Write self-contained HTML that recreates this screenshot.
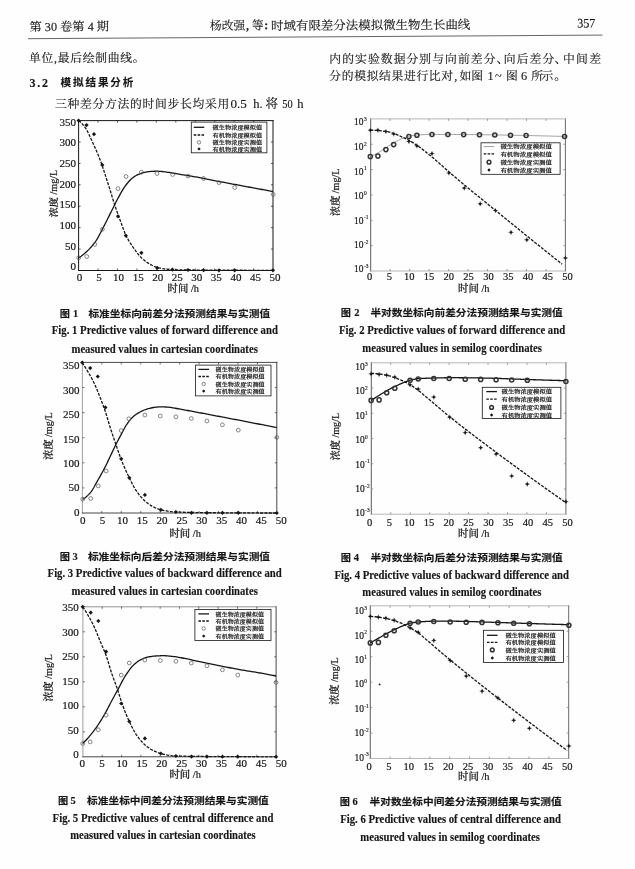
<!DOCTYPE html>
<html lang="zh"><head><meta charset="utf-8"><title>p357</title>
<style>html,body{margin:0;padding:0;background:#fff}svg{display:block}text{white-space:pre}</style></head>
<body><svg width="635" height="869" viewBox="0 0 635 869">
<defs><filter id="bl" x="0" y="0" width="635" height="869" filterUnits="userSpaceOnUse"><feGaussianBlur stdDeviation="0.5"/></filter></defs>
<rect width="635" height="869" fill="#fefefe"/>
<g filter="url(#bl)">
<g transform="rotate(-0.36 28 38.7)">
<text x="29.60" y="31.00" font-size="12" text-anchor="start" font-family="&quot;Liberation Serif&quot;,&quot;Noto Serif CJK SC&quot;,serif" font-weight="400" fill="#161616" stroke="#161616" stroke-width="0.14" textLength="79.5" lengthAdjust="spacingAndGlyphs">第 30 卷第 4 期</text>
<text x="210.00" y="31.00" font-size="12" text-anchor="start" font-family="&quot;Liberation Serif&quot;,&quot;Noto Serif CJK SC&quot;,serif" font-weight="400" fill="#161616" stroke="#161616" stroke-width="0.14" textLength="35.2" lengthAdjust="spacingAndGlyphs">杨改强</text>
<text x="246.00" y="31.00" font-size="12" text-anchor="start" font-family="&quot;Liberation Serif&quot;,&quot;Noto Serif CJK SC&quot;,serif" font-weight="bold" fill="#161616" stroke="#161616" stroke-width="0.14">,</text>
<text x="252.00" y="31.00" font-size="12" text-anchor="start" font-family="&quot;Liberation Serif&quot;,&quot;Noto Serif CJK SC&quot;,serif" font-weight="400" fill="#161616" stroke="#161616" stroke-width="0.14" textLength="11.6" lengthAdjust="spacingAndGlyphs">等</text>
<text x="264.30" y="30.60" font-size="12" text-anchor="start" font-family="&quot;Liberation Serif&quot;,&quot;Noto Serif CJK SC&quot;,serif" font-weight="bold" fill="#161616" stroke="#161616" stroke-width="0.14">:</text>
<text x="271.10" y="31.50" font-size="12" text-anchor="start" font-family="&quot;Liberation Serif&quot;,&quot;Noto Serif CJK SC&quot;,serif" font-weight="400" fill="#161616" stroke="#161616" stroke-width="0.14" textLength="199.3" lengthAdjust="spacingAndGlyphs">时域有限差分法模拟微生物生长曲线</text>
<text x="577.30" y="31.00" font-size="13" text-anchor="start" font-family="&quot;Liberation Serif&quot;,&quot;Noto Serif CJK SC&quot;,serif" font-weight="normal" fill="#161616" stroke="#161616" stroke-width="0.14" textLength="18.2" lengthAdjust="spacingAndGlyphs">357</text>
<line x1="28.00" y1="38.70" x2="602.50" y2="38.70" stroke="#555" stroke-width="0.9"/>
</g>
<text x="29.00" y="62.40" font-size="11.8" text-anchor="start" font-family="&quot;Liberation Serif&quot;,&quot;Noto Serif CJK SC&quot;,serif" font-weight="400" fill="#161616" stroke="#161616" stroke-width="0.14" textLength="115.5" lengthAdjust="spacing">单位,最后绘制曲线。</text>
<text x="29.50" y="86.60" font-size="12" text-anchor="start" font-family="&quot;Liberation Serif&quot;,&quot;Noto Serif CJK SC&quot;,serif" font-weight="bold" fill="#161616" stroke="#161616" stroke-width="0.14" textLength="18.5" lengthAdjust="spacing">3.2</text>
<text x="60.60" y="86.30" font-size="10.6" text-anchor="start" font-family="&quot;Liberation Sans&quot;,&quot;Noto Sans CJK SC&quot;,sans-serif" font-weight="bold" fill="#161616" stroke="#161616" stroke-width="0.14" textLength="72.8" lengthAdjust="spacing">模拟结果分析</text>
<text x="55.00" y="107.90" font-size="11.8" text-anchor="start" font-family="&quot;Liberation Serif&quot;,&quot;Noto Serif CJK SC&quot;,serif" font-weight="400" fill="#161616" stroke="#161616" stroke-width="0.14" textLength="174.3" lengthAdjust="spacing">三种差分方法的时间步长均采用</text>
<text x="230.50" y="107.90" font-size="12.5" text-anchor="start" font-family="&quot;Liberation Serif&quot;,&quot;Noto Serif CJK SC&quot;,serif" font-weight="normal" fill="#161616" stroke="#161616" stroke-width="0.14" textLength="16.4" lengthAdjust="spacingAndGlyphs">0.5</text>
<text x="253.20" y="107.90" font-size="12.5" text-anchor="start" font-family="&quot;Liberation Serif&quot;,&quot;Noto Serif CJK SC&quot;,serif" font-weight="normal" fill="#161616" stroke="#161616" stroke-width="0.14">h.</text>
<text x="265.60" y="107.90" font-size="12.5" text-anchor="start" font-family="&quot;Liberation Serif&quot;,&quot;Noto Serif CJK SC&quot;,serif" font-weight="400" fill="#161616" stroke="#161616" stroke-width="0.14">将</text>
<text x="282.20" y="107.90" font-size="12.5" text-anchor="start" font-family="&quot;Liberation Serif&quot;,&quot;Noto Serif CJK SC&quot;,serif" font-weight="normal" fill="#161616" stroke="#161616" stroke-width="0.14" textLength="10.4" lengthAdjust="spacingAndGlyphs">50</text>
<text x="297.30" y="107.90" font-size="12.5" text-anchor="start" font-family="&quot;Liberation Serif&quot;,&quot;Noto Serif CJK SC&quot;,serif" font-weight="normal" fill="#161616" stroke="#161616" stroke-width="0.14">h</text>
<text x="329.30" y="62.50" font-size="11.8" text-anchor="start" font-family="&quot;Liberation Serif&quot;,&quot;Noto Serif CJK SC&quot;,serif" font-weight="400" fill="#161616" stroke="#161616" stroke-width="0.14" textLength="166.2" lengthAdjust="spacing">内的实验数据分别与向前差分</text>
<text x="496.60" y="62.50" font-size="12.5" text-anchor="start" font-family="&quot;Liberation Serif&quot;,&quot;Noto Serif CJK SC&quot;,serif" font-weight="400" fill="#161616" stroke="#161616" stroke-width="0.14">、</text>
<text x="503.70" y="62.50" font-size="11.8" text-anchor="start" font-family="&quot;Liberation Serif&quot;,&quot;Noto Serif CJK SC&quot;,serif" font-weight="400" fill="#161616" stroke="#161616" stroke-width="0.14" textLength="50.6" lengthAdjust="spacing">向后差分</text>
<text x="554.60" y="62.50" font-size="12.5" text-anchor="start" font-family="&quot;Liberation Serif&quot;,&quot;Noto Serif CJK SC&quot;,serif" font-weight="400" fill="#161616" stroke="#161616" stroke-width="0.14">、</text>
<text x="562.90" y="62.50" font-size="11.8" text-anchor="start" font-family="&quot;Liberation Serif&quot;,&quot;Noto Serif CJK SC&quot;,serif" font-weight="400" fill="#161616" stroke="#161616" stroke-width="0.14" textLength="38.2" lengthAdjust="spacing">中间差</text>
<text x="329.30" y="80.40" font-size="11.8" text-anchor="start" font-family="&quot;Liberation Serif&quot;,&quot;Noto Serif CJK SC&quot;,serif" font-weight="400" fill="#161616" stroke="#161616" stroke-width="0.14" textLength="123.8" lengthAdjust="spacing">分的模拟结果进行比对</text>
<text x="454.20" y="80.40" font-size="12.3" text-anchor="start" font-family="&quot;Liberation Serif&quot;,&quot;Noto Serif CJK SC&quot;,serif" font-weight="normal" fill="#161616" stroke="#161616" stroke-width="0.14">,</text>
<text x="459.50" y="80.40" font-size="11.8" text-anchor="start" font-family="&quot;Liberation Serif&quot;,&quot;Noto Serif CJK SC&quot;,serif" font-weight="400" fill="#161616" stroke="#161616" stroke-width="0.14" textLength="23.6" lengthAdjust="spacing">如图</text>
<text x="487.40" y="80.40" font-size="12.3" text-anchor="start" font-family="&quot;Liberation Serif&quot;,&quot;Noto Serif CJK SC&quot;,serif" font-weight="normal" fill="#161616" stroke="#161616" stroke-width="0.14">1</text>
<text x="495.00" y="80.40" font-size="12.3" text-anchor="start" font-family="&quot;Liberation Serif&quot;,&quot;Noto Serif CJK SC&quot;,serif" font-weight="normal" fill="#161616" stroke="#161616" stroke-width="0.14">~</text>
<text x="505.90" y="80.40" font-size="11.8" text-anchor="start" font-family="&quot;Liberation Serif&quot;,&quot;Noto Serif CJK SC&quot;,serif" font-weight="400" fill="#161616" stroke="#161616" stroke-width="0.14" textLength="11.5" lengthAdjust="spacing">图</text>
<text x="521.00" y="80.40" font-size="12.3" text-anchor="start" font-family="&quot;Liberation Serif&quot;,&quot;Noto Serif CJK SC&quot;,serif" font-weight="normal" fill="#161616" stroke="#161616" stroke-width="0.14">6</text>
<text x="531.20" y="80.40" font-size="11.8" text-anchor="start" font-family="&quot;Liberation Serif&quot;,&quot;Noto Serif CJK SC&quot;,serif" font-weight="400" fill="#161616" stroke="#161616" stroke-width="0.14" textLength="22" lengthAdjust="spacing">所示</text>
<text x="554.30" y="80.40" font-size="12.3" text-anchor="start" font-family="&quot;Liberation Serif&quot;,&quot;Noto Serif CJK SC&quot;,serif" font-weight="400" fill="#161616" stroke="#161616" stroke-width="0.14">。</text>
<text x="59.70" y="316.70" font-size="9.6" text-anchor="start" font-family="&quot;Liberation Sans&quot;,&quot;Noto Sans CJK SC&quot;,sans-serif" font-weight="bold" fill="#161616" stroke="#161616" stroke-width="0.14" textLength="10.2" lengthAdjust="spacingAndGlyphs">图</text>
<text x="73.00" y="316.60" font-size="10.5" text-anchor="start" font-family="&quot;Liberation Serif&quot;,&quot;Noto Serif CJK SC&quot;,serif" font-weight="bold" fill="#161616" stroke="#161616" stroke-width="0.14">1</text>
<text x="88.40" y="316.70" font-size="9.6" text-anchor="start" font-family="&quot;Liberation Sans&quot;,&quot;Noto Sans CJK SC&quot;,sans-serif" font-weight="bold" fill="#161616" stroke="#161616" stroke-width="0.14" textLength="181.7" lengthAdjust="spacingAndGlyphs">标准坐标向前差分法预测结果与实测值</text>
<text x="51.80" y="334.40" font-size="12.2" text-anchor="start" font-family="&quot;Liberation Serif&quot;,&quot;Noto Serif CJK SC&quot;,serif" font-weight="bold" fill="#161616" stroke="#161616" stroke-width="0.14" textLength="226.1" lengthAdjust="spacingAndGlyphs">Fig. 1 Predictive values of forward difference and</text>
<text x="71.50" y="352.70" font-size="12.2" text-anchor="start" font-family="&quot;Liberation Serif&quot;,&quot;Noto Serif CJK SC&quot;,serif" font-weight="bold" fill="#161616" stroke="#161616" stroke-width="0.14" textLength="186.3" lengthAdjust="spacingAndGlyphs">measured values in cartesian coordinates</text>
<text x="340.70" y="315.60" font-size="9.6" text-anchor="start" font-family="&quot;Liberation Sans&quot;,&quot;Noto Sans CJK SC&quot;,sans-serif" font-weight="bold" fill="#161616" stroke="#161616" stroke-width="0.14" textLength="10.2" lengthAdjust="spacingAndGlyphs">图</text>
<text x="354.30" y="315.50" font-size="10.5" text-anchor="start" font-family="&quot;Liberation Serif&quot;,&quot;Noto Serif CJK SC&quot;,serif" font-weight="bold" fill="#161616" stroke="#161616" stroke-width="0.14">2</text>
<text x="370.40" y="315.60" font-size="9.6" text-anchor="start" font-family="&quot;Liberation Sans&quot;,&quot;Noto Sans CJK SC&quot;,sans-serif" font-weight="bold" fill="#161616" stroke="#161616" stroke-width="0.14" textLength="192.3" lengthAdjust="spacingAndGlyphs">半对数坐标向前差分法预测结果与实测值</text>
<text x="338.90" y="334.40" font-size="12.2" text-anchor="start" font-family="&quot;Liberation Serif&quot;,&quot;Noto Serif CJK SC&quot;,serif" font-weight="bold" fill="#161616" stroke="#161616" stroke-width="0.14" textLength="226.3" lengthAdjust="spacingAndGlyphs">Fig. 2 Predictive values of forward difference and</text>
<text x="362.30" y="352.40" font-size="12.2" text-anchor="start" font-family="&quot;Liberation Serif&quot;,&quot;Noto Serif CJK SC&quot;,serif" font-weight="bold" fill="#161616" stroke="#161616" stroke-width="0.14" textLength="179.7" lengthAdjust="spacingAndGlyphs">measured values in semilog coordinates</text>
<text x="59.70" y="559.70" font-size="9.6" text-anchor="start" font-family="&quot;Liberation Sans&quot;,&quot;Noto Sans CJK SC&quot;,sans-serif" font-weight="bold" fill="#161616" stroke="#161616" stroke-width="0.14" textLength="10.2" lengthAdjust="spacingAndGlyphs">图</text>
<text x="72.60" y="559.60" font-size="10.5" text-anchor="start" font-family="&quot;Liberation Serif&quot;,&quot;Noto Serif CJK SC&quot;,serif" font-weight="bold" fill="#161616" stroke="#161616" stroke-width="0.14">3</text>
<text x="87.90" y="559.70" font-size="9.6" text-anchor="start" font-family="&quot;Liberation Sans&quot;,&quot;Noto Sans CJK SC&quot;,sans-serif" font-weight="bold" fill="#161616" stroke="#161616" stroke-width="0.14" textLength="182.2" lengthAdjust="spacingAndGlyphs">标准坐标向后差分法预测结果与实测值</text>
<text x="47.60" y="577.30" font-size="12.2" text-anchor="start" font-family="&quot;Liberation Serif&quot;,&quot;Noto Serif CJK SC&quot;,serif" font-weight="bold" fill="#161616" stroke="#161616" stroke-width="0.14" textLength="234.1" lengthAdjust="spacingAndGlyphs">Fig. 3 Predictive values of backward difference and</text>
<text x="71.50" y="595.20" font-size="12.2" text-anchor="start" font-family="&quot;Liberation Serif&quot;,&quot;Noto Serif CJK SC&quot;,serif" font-weight="bold" fill="#161616" stroke="#161616" stroke-width="0.14" textLength="186.3" lengthAdjust="spacingAndGlyphs">measured values in cartesian coordinates</text>
<text x="340.70" y="560.60" font-size="9.6" text-anchor="start" font-family="&quot;Liberation Sans&quot;,&quot;Noto Sans CJK SC&quot;,sans-serif" font-weight="bold" fill="#161616" stroke="#161616" stroke-width="0.14" textLength="10.2" lengthAdjust="spacingAndGlyphs">图</text>
<text x="353.80" y="560.50" font-size="10.5" text-anchor="start" font-family="&quot;Liberation Serif&quot;,&quot;Noto Serif CJK SC&quot;,serif" font-weight="bold" fill="#161616" stroke="#161616" stroke-width="0.14">4</text>
<text x="370.40" y="560.60" font-size="9.6" text-anchor="start" font-family="&quot;Liberation Sans&quot;,&quot;Noto Sans CJK SC&quot;,sans-serif" font-weight="bold" fill="#161616" stroke="#161616" stroke-width="0.14" textLength="192.3" lengthAdjust="spacingAndGlyphs">半对数坐标向后差分法预测结果与实测值</text>
<text x="334.40" y="578.70" font-size="12.2" text-anchor="start" font-family="&quot;Liberation Serif&quot;,&quot;Noto Serif CJK SC&quot;,serif" font-weight="bold" fill="#161616" stroke="#161616" stroke-width="0.14" textLength="234.6" lengthAdjust="spacingAndGlyphs">Fig. 4 Predictive values of backward difference and</text>
<text x="362.30" y="596.00" font-size="12.2" text-anchor="start" font-family="&quot;Liberation Serif&quot;,&quot;Noto Serif CJK SC&quot;,serif" font-weight="bold" fill="#161616" stroke="#161616" stroke-width="0.14" textLength="179.2" lengthAdjust="spacingAndGlyphs">measured values in semilog coordinates</text>
<text x="58.10" y="803.90" font-size="9.6" text-anchor="start" font-family="&quot;Liberation Sans&quot;,&quot;Noto Sans CJK SC&quot;,sans-serif" font-weight="bold" fill="#161616" stroke="#161616" stroke-width="0.14" textLength="10.2" lengthAdjust="spacingAndGlyphs">图</text>
<text x="70.60" y="803.80" font-size="10.5" text-anchor="start" font-family="&quot;Liberation Serif&quot;,&quot;Noto Serif CJK SC&quot;,serif" font-weight="bold" fill="#161616" stroke="#161616" stroke-width="0.14">5</text>
<text x="87.10" y="803.90" font-size="9.6" text-anchor="start" font-family="&quot;Liberation Sans&quot;,&quot;Noto Sans CJK SC&quot;,sans-serif" font-weight="bold" fill="#161616" stroke="#161616" stroke-width="0.14" textLength="181.7" lengthAdjust="spacingAndGlyphs">标准坐标中间差分法预测结果与实测值</text>
<text x="52.60" y="822.20" font-size="12.2" text-anchor="start" font-family="&quot;Liberation Serif&quot;,&quot;Noto Serif CJK SC&quot;,serif" font-weight="bold" fill="#161616" stroke="#161616" stroke-width="0.14" textLength="220.8" lengthAdjust="spacingAndGlyphs">Fig. 5 Predictive values of central difference and</text>
<text x="70.20" y="839.40" font-size="12.2" text-anchor="start" font-family="&quot;Liberation Serif&quot;,&quot;Noto Serif CJK SC&quot;,serif" font-weight="bold" fill="#161616" stroke="#161616" stroke-width="0.14" textLength="185.5" lengthAdjust="spacingAndGlyphs">measured values in cartesian coordinates</text>
<text x="339.70" y="805.30" font-size="9.6" text-anchor="start" font-family="&quot;Liberation Sans&quot;,&quot;Noto Sans CJK SC&quot;,sans-serif" font-weight="bold" fill="#161616" stroke="#161616" stroke-width="0.14" textLength="10.2" lengthAdjust="spacingAndGlyphs">图</text>
<text x="352.60" y="805.20" font-size="10.5" text-anchor="start" font-family="&quot;Liberation Serif&quot;,&quot;Noto Serif CJK SC&quot;,serif" font-weight="bold" fill="#161616" stroke="#161616" stroke-width="0.14">6</text>
<text x="369.60" y="805.30" font-size="9.6" text-anchor="start" font-family="&quot;Liberation Sans&quot;,&quot;Noto Sans CJK SC&quot;,sans-serif" font-weight="bold" fill="#161616" stroke="#161616" stroke-width="0.14" textLength="192.1" lengthAdjust="spacingAndGlyphs">半对数坐标中间差分法预测结果与实测值</text>
<text x="340.20" y="822.80" font-size="12.2" text-anchor="start" font-family="&quot;Liberation Serif&quot;,&quot;Noto Serif CJK SC&quot;,serif" font-weight="bold" fill="#161616" stroke="#161616" stroke-width="0.14" textLength="220.7" lengthAdjust="spacingAndGlyphs">Fig. 6 Predictive values of central difference and</text>
<text x="360.30" y="841.40" font-size="12.2" text-anchor="start" font-family="&quot;Liberation Serif&quot;,&quot;Noto Serif CJK SC&quot;,serif" font-weight="bold" fill="#161616" stroke="#161616" stroke-width="0.14" textLength="179.7" lengthAdjust="spacingAndGlyphs">measured values in semilog coordinates</text>
<line x1="78.60" y1="120.60" x2="78.60" y2="270.50" stroke="#161616" stroke-width="1.0" stroke-linecap="square"/>
<line x1="273.00" y1="120.60" x2="273.00" y2="270.50" stroke="#161616" stroke-width="1.0" stroke-linecap="square"/>
<line x1="78.60" y1="120.60" x2="273.00" y2="120.60" stroke="#161616" stroke-width="1.0" stroke-linecap="square"/>
<line x1="78.60" y1="270.50" x2="273.00" y2="270.50" stroke="#161616" stroke-width="1.0" stroke-linecap="square"/>
<text x="79.50" y="280.50" font-size="11" text-anchor="middle" font-family="&quot;Liberation Serif&quot;,&quot;Noto Serif CJK SC&quot;,serif" font-weight="normal" fill="#161616" stroke="#161616" stroke-width="0.2">0</text>
<line x1="98.04" y1="270.50" x2="98.04" y2="268.50" stroke="#161616" stroke-width="0.7"/>
<line x1="98.04" y1="120.60" x2="98.04" y2="122.60" stroke="#161616" stroke-width="0.7"/>
<text x="99.05" y="280.50" font-size="11" text-anchor="middle" font-family="&quot;Liberation Serif&quot;,&quot;Noto Serif CJK SC&quot;,serif" font-weight="normal" fill="#161616" stroke="#161616" stroke-width="0.2">5</text>
<line x1="117.48" y1="270.50" x2="117.48" y2="268.50" stroke="#161616" stroke-width="0.7"/>
<line x1="117.48" y1="120.60" x2="117.48" y2="122.60" stroke="#161616" stroke-width="0.7"/>
<text x="118.60" y="280.50" font-size="11" text-anchor="middle" font-family="&quot;Liberation Serif&quot;,&quot;Noto Serif CJK SC&quot;,serif" font-weight="normal" fill="#161616" stroke="#161616" stroke-width="0.2">10</text>
<line x1="136.92" y1="270.50" x2="136.92" y2="268.50" stroke="#161616" stroke-width="0.7"/>
<line x1="136.92" y1="120.60" x2="136.92" y2="122.60" stroke="#161616" stroke-width="0.7"/>
<text x="138.15" y="280.50" font-size="11" text-anchor="middle" font-family="&quot;Liberation Serif&quot;,&quot;Noto Serif CJK SC&quot;,serif" font-weight="normal" fill="#161616" stroke="#161616" stroke-width="0.2">15</text>
<line x1="156.36" y1="270.50" x2="156.36" y2="268.50" stroke="#161616" stroke-width="0.7"/>
<line x1="156.36" y1="120.60" x2="156.36" y2="122.60" stroke="#161616" stroke-width="0.7"/>
<text x="157.70" y="280.50" font-size="11" text-anchor="middle" font-family="&quot;Liberation Serif&quot;,&quot;Noto Serif CJK SC&quot;,serif" font-weight="normal" fill="#161616" stroke="#161616" stroke-width="0.2">20</text>
<line x1="175.80" y1="270.50" x2="175.80" y2="268.50" stroke="#161616" stroke-width="0.7"/>
<line x1="175.80" y1="120.60" x2="175.80" y2="122.60" stroke="#161616" stroke-width="0.7"/>
<text x="177.25" y="280.50" font-size="11" text-anchor="middle" font-family="&quot;Liberation Serif&quot;,&quot;Noto Serif CJK SC&quot;,serif" font-weight="normal" fill="#161616" stroke="#161616" stroke-width="0.2">25</text>
<line x1="195.24" y1="270.50" x2="195.24" y2="268.50" stroke="#161616" stroke-width="0.7"/>
<line x1="195.24" y1="120.60" x2="195.24" y2="122.60" stroke="#161616" stroke-width="0.7"/>
<text x="196.80" y="280.50" font-size="11" text-anchor="middle" font-family="&quot;Liberation Serif&quot;,&quot;Noto Serif CJK SC&quot;,serif" font-weight="normal" fill="#161616" stroke="#161616" stroke-width="0.2">30</text>
<line x1="214.68" y1="270.50" x2="214.68" y2="268.50" stroke="#161616" stroke-width="0.7"/>
<line x1="214.68" y1="120.60" x2="214.68" y2="122.60" stroke="#161616" stroke-width="0.7"/>
<text x="216.35" y="280.50" font-size="11" text-anchor="middle" font-family="&quot;Liberation Serif&quot;,&quot;Noto Serif CJK SC&quot;,serif" font-weight="normal" fill="#161616" stroke="#161616" stroke-width="0.2">35</text>
<line x1="234.12" y1="270.50" x2="234.12" y2="268.50" stroke="#161616" stroke-width="0.7"/>
<line x1="234.12" y1="120.60" x2="234.12" y2="122.60" stroke="#161616" stroke-width="0.7"/>
<text x="235.90" y="280.50" font-size="11" text-anchor="middle" font-family="&quot;Liberation Serif&quot;,&quot;Noto Serif CJK SC&quot;,serif" font-weight="normal" fill="#161616" stroke="#161616" stroke-width="0.2">40</text>
<line x1="253.56" y1="270.50" x2="253.56" y2="268.50" stroke="#161616" stroke-width="0.7"/>
<line x1="253.56" y1="120.60" x2="253.56" y2="122.60" stroke="#161616" stroke-width="0.7"/>
<text x="255.45" y="280.50" font-size="11" text-anchor="middle" font-family="&quot;Liberation Serif&quot;,&quot;Noto Serif CJK SC&quot;,serif" font-weight="normal" fill="#161616" stroke="#161616" stroke-width="0.2">45</text>
<text x="275.00" y="280.50" font-size="11" text-anchor="middle" font-family="&quot;Liberation Serif&quot;,&quot;Noto Serif CJK SC&quot;,serif" font-weight="normal" fill="#161616" stroke="#161616" stroke-width="0.2">50</text>
<text x="76.00" y="125.53" font-size="11" text-anchor="end" font-family="&quot;Liberation Serif&quot;,&quot;Noto Serif CJK SC&quot;,serif" font-weight="normal" fill="#161616" stroke="#161616" stroke-width="0.2">350</text>
<line x1="78.60" y1="142.01" x2="80.60" y2="142.01" stroke="#161616" stroke-width="0.7"/>
<line x1="273.00" y1="142.01" x2="271.00" y2="142.01" stroke="#161616" stroke-width="0.7"/>
<text x="76.00" y="146.23" font-size="11" text-anchor="end" font-family="&quot;Liberation Serif&quot;,&quot;Noto Serif CJK SC&quot;,serif" font-weight="normal" fill="#161616" stroke="#161616" stroke-width="0.2">300</text>
<line x1="78.60" y1="163.43" x2="80.60" y2="163.43" stroke="#161616" stroke-width="0.7"/>
<line x1="273.00" y1="163.43" x2="271.00" y2="163.43" stroke="#161616" stroke-width="0.7"/>
<text x="76.00" y="166.93" font-size="11" text-anchor="end" font-family="&quot;Liberation Serif&quot;,&quot;Noto Serif CJK SC&quot;,serif" font-weight="normal" fill="#161616" stroke="#161616" stroke-width="0.2">250</text>
<line x1="78.60" y1="184.84" x2="80.60" y2="184.84" stroke="#161616" stroke-width="0.7"/>
<line x1="273.00" y1="184.84" x2="271.00" y2="184.84" stroke="#161616" stroke-width="0.7"/>
<text x="76.00" y="187.63" font-size="11" text-anchor="end" font-family="&quot;Liberation Serif&quot;,&quot;Noto Serif CJK SC&quot;,serif" font-weight="normal" fill="#161616" stroke="#161616" stroke-width="0.2">200</text>
<line x1="78.60" y1="206.26" x2="80.60" y2="206.26" stroke="#161616" stroke-width="0.7"/>
<line x1="273.00" y1="206.26" x2="271.00" y2="206.26" stroke="#161616" stroke-width="0.7"/>
<text x="76.00" y="208.33" font-size="11" text-anchor="end" font-family="&quot;Liberation Serif&quot;,&quot;Noto Serif CJK SC&quot;,serif" font-weight="normal" fill="#161616" stroke="#161616" stroke-width="0.2">150</text>
<line x1="78.60" y1="227.67" x2="80.60" y2="227.67" stroke="#161616" stroke-width="0.7"/>
<line x1="273.00" y1="227.67" x2="271.00" y2="227.67" stroke="#161616" stroke-width="0.7"/>
<text x="76.00" y="229.03" font-size="11" text-anchor="end" font-family="&quot;Liberation Serif&quot;,&quot;Noto Serif CJK SC&quot;,serif" font-weight="normal" fill="#161616" stroke="#161616" stroke-width="0.2">100</text>
<line x1="78.60" y1="249.09" x2="80.60" y2="249.09" stroke="#161616" stroke-width="0.7"/>
<line x1="273.00" y1="249.09" x2="271.00" y2="249.09" stroke="#161616" stroke-width="0.7"/>
<text x="76.00" y="249.73" font-size="11" text-anchor="end" font-family="&quot;Liberation Serif&quot;,&quot;Noto Serif CJK SC&quot;,serif" font-weight="normal" fill="#161616" stroke="#161616" stroke-width="0.2">50</text>
<text x="76.00" y="270.43" font-size="11" text-anchor="end" font-family="&quot;Liberation Serif&quot;,&quot;Noto Serif CJK SC&quot;,serif" font-weight="normal" fill="#161616" stroke="#161616" stroke-width="0.2">0</text>
<text x="183.30" y="292.00" font-size="10.4" text-anchor="middle" font-family="&quot;Liberation Serif&quot;,&quot;Noto Serif CJK SC&quot;,serif" font-weight="500" fill="#161616" stroke="#161616" stroke-width="0.2">时间 /h</text>
<text transform="translate(56.60,193.50) rotate(-90)" font-size="9.5" text-anchor="middle" font-family="&quot;Liberation Serif&quot;,&quot;Noto Serif CJK SC&quot;,serif" font-weight="500" fill="#161616" stroke="#161616" stroke-width="0.2" textLength="47.5" lengthAdjust="spacingAndGlyphs">浓度 /mg/L</text>
<clipPath id="cp1"><rect x="77.60" y="119.60" width="196.40" height="151.90"/></clipPath>
<g clip-path="url(#cp1)">
<path d="M78.70,257.80 L79.92,257.03 L81.14,256.19 L82.37,255.28 L83.59,254.31 L84.81,253.28 L86.03,252.20 L87.25,251.08 L88.48,249.89 L89.70,248.63 L90.92,247.30 L92.14,245.89 L93.36,244.39 L94.59,242.80 L95.81,241.10 L97.03,239.20 L98.25,237.08 L99.47,234.81 L100.70,232.46 L101.92,230.09 L103.14,227.75 L104.36,225.39 L105.58,222.98 L106.81,220.53 L108.03,218.06 L109.25,215.60 L110.47,213.16 L111.69,210.70 L112.92,208.21 L114.14,205.72 L115.36,203.26 L116.58,200.86 L117.80,198.56 L119.03,196.32 L120.25,194.09 L121.47,191.91 L122.69,189.81 L123.91,187.86 L125.14,186.08 L126.36,184.49 L127.58,182.97 L128.80,181.54 L130.02,180.21 L131.25,179.02 L132.47,177.97 L133.69,177.09 L134.91,176.28 L136.13,175.54 L137.36,174.87 L138.58,174.29 L139.80,173.78 L141.02,173.36 L142.24,172.98 L143.47,172.62 L144.69,172.31 L145.91,172.04 L147.13,171.83 L148.35,171.69 L149.58,171.58 L150.80,171.47 L152.02,171.39 L153.24,171.31 L154.46,171.25 L155.69,171.21 L156.91,171.20 L158.13,171.22 L159.35,171.29 L160.57,171.39 L161.80,171.52 L163.02,171.66 L164.24,171.81 L165.46,171.96 L166.68,172.11 L167.91,172.27 L169.13,172.45 L170.35,172.64 L171.57,172.84 L172.79,173.06 L174.02,173.27 L175.24,173.50 L176.46,173.72 L177.68,173.94 L178.91,174.16 L180.13,174.37 L181.35,174.57 L182.57,174.77 L183.79,174.97 L185.02,175.17 L186.24,175.36 L187.46,175.56 L188.68,175.75 L189.90,175.95 L191.13,176.15 L192.35,176.35 L193.57,176.56 L194.79,176.77 L196.01,176.98 L197.24,177.21 L198.46,177.44 L199.68,177.68 L200.90,177.92 L202.12,178.16 L203.35,178.41 L204.57,178.66 L205.79,178.91 L207.01,179.16 L208.23,179.41 L209.46,179.66 L210.68,179.90 L211.90,180.14 L213.12,180.37 L214.34,180.61 L215.57,180.84 L216.79,181.07 L218.01,181.30 L219.23,181.54 L220.45,181.77 L221.68,182.00 L222.90,182.22 L224.12,182.45 L225.34,182.68 L226.56,182.91 L227.79,183.14 L229.01,183.37 L230.23,183.60 L231.45,183.82 L232.67,184.05 L233.90,184.28 L235.12,184.51 L236.34,184.74 L237.56,184.97 L238.78,185.19 L240.01,185.42 L241.23,185.65 L242.45,185.88 L243.67,186.10 L244.89,186.33 L246.12,186.56 L247.34,186.78 L248.56,187.01 L249.78,187.24 L251.00,187.46 L252.23,187.69 L253.45,187.91 L254.67,188.14 L255.89,188.36 L257.11,188.59 L258.34,188.81 L259.56,189.04 L260.78,189.26 L262.00,189.49 L263.22,189.71 L264.45,189.94 L265.67,190.16 L266.89,190.38 L268.11,190.61 L269.33,190.83 L270.56,191.05 L271.78,191.28 L273.00,191.50" fill="none" stroke="#161616" stroke-width="1.3" stroke-linejoin="round"/>
<path d="M78.60,120.60 L79.82,121.48 L81.05,122.59 L82.27,123.89 L83.49,125.35 L84.71,126.94 L85.94,128.69 L87.16,130.78 L88.38,133.17 L89.60,135.75 L90.83,138.44 L92.05,141.16 L93.27,143.82 L94.49,146.50 L95.72,149.25 L96.94,152.07 L98.16,155.00 L99.38,158.04 L100.61,161.22 L101.83,164.60 L103.05,168.16 L104.28,171.85 L105.50,175.63 L106.72,179.44 L107.94,183.23 L109.17,187.09 L110.39,191.04 L111.61,195.04 L112.83,199.02 L114.06,202.91 L115.28,206.64 L116.50,210.20 L117.72,213.64 L118.95,216.99 L120.17,220.30 L121.39,223.62 L122.62,227.05 L123.84,230.40 L125.06,233.47 L126.28,236.08 L127.51,238.41 L128.73,240.56 L129.95,242.56 L131.17,244.44 L132.40,246.25 L133.62,248.01 L134.84,249.75 L136.06,251.45 L137.29,253.08 L138.51,254.63 L139.73,256.06 L140.95,257.36 L142.18,258.53 L143.40,259.61 L144.62,260.62 L145.85,261.55 L147.07,262.40 L148.29,263.18 L149.51,263.89 L150.74,264.57 L151.96,265.22 L153.18,265.83 L154.40,266.38 L155.63,266.86 L156.85,267.27 L158.07,267.61 L159.29,267.92 L160.52,268.20 L161.74,268.46 L162.96,268.68 L164.18,268.87 L165.41,269.03 L166.63,269.15 L167.85,269.26 L169.08,269.36 L170.30,269.45 L171.52,269.54 L172.74,269.62 L173.97,269.70 L175.19,269.76 L176.41,269.81 L177.63,269.85 L178.86,269.88 L180.08,269.90 L181.30,269.91 L182.52,269.93 L183.75,269.94 L184.97,269.95 L186.19,269.96 L187.42,269.97 L188.64,269.98 L189.86,269.99 L191.08,270.00 L192.31,270.01 L193.53,270.02 L194.75,270.03 L195.97,270.04 L197.20,270.05 L198.42,270.06 L199.64,270.07 L200.86,270.08 L202.09,270.09 L203.31,270.10 L204.53,270.10 L205.75,270.11 L206.98,270.12 L208.20,270.13 L209.42,270.13 L210.65,270.14 L211.87,270.15 L213.09,270.16 L214.31,270.16 L215.54,270.17 L216.76,270.17 L217.98,270.18 L219.20,270.19 L220.43,270.19 L221.65,270.20 L222.87,270.20 L224.09,270.21 L225.32,270.21 L226.54,270.22 L227.76,270.22 L228.98,270.23 L230.21,270.23 L231.43,270.24 L232.65,270.24 L233.88,270.24 L235.10,270.25 L236.32,270.25 L237.54,270.25 L238.77,270.26 L239.99,270.26 L241.21,270.26 L242.43,270.27 L243.66,270.27 L244.88,270.27 L246.10,270.28 L247.32,270.28 L248.55,270.28 L249.77,270.28 L250.99,270.28 L252.22,270.29 L253.44,270.29 L254.66,270.29 L255.88,270.29 L257.11,270.29 L258.33,270.29 L259.55,270.29 L260.77,270.30 L262.00,270.30 L263.22,270.30 L264.44,270.30 L265.66,270.30 L266.89,270.30 L268.11,270.30 L269.33,270.30 L270.55,270.30 L271.78,270.30 L273.00,270.30" fill="none" stroke="#161616" stroke-width="1.3" stroke-linejoin="round" stroke-dasharray="3 1.3"/>
</g>
<circle cx="78.70" cy="257.80" r="1.9" fill="none" stroke="#555" stroke-width="0.7"/>
<circle cx="86.80" cy="256.50" r="1.9" fill="none" stroke="#555" stroke-width="0.7"/>
<circle cx="94.80" cy="244.40" r="1.9" fill="none" stroke="#555" stroke-width="0.7"/>
<circle cx="102.40" cy="229.30" r="1.9" fill="none" stroke="#555" stroke-width="0.7"/>
<circle cx="118.00" cy="188.60" r="1.9" fill="none" stroke="#555" stroke-width="0.7"/>
<circle cx="126.00" cy="176.50" r="1.9" fill="none" stroke="#555" stroke-width="0.7"/>
<circle cx="141.40" cy="172.20" r="1.9" fill="none" stroke="#555" stroke-width="0.7"/>
<circle cx="157.00" cy="173.50" r="1.9" fill="none" stroke="#555" stroke-width="0.7"/>
<circle cx="172.60" cy="174.50" r="1.9" fill="none" stroke="#555" stroke-width="0.7"/>
<circle cx="188.00" cy="176.00" r="1.9" fill="none" stroke="#555" stroke-width="0.7"/>
<circle cx="203.60" cy="178.50" r="1.9" fill="none" stroke="#555" stroke-width="0.7"/>
<circle cx="219.00" cy="182.60" r="1.9" fill="none" stroke="#555" stroke-width="0.7"/>
<circle cx="234.70" cy="187.60" r="1.9" fill="none" stroke="#555" stroke-width="0.7"/>
<circle cx="273.20" cy="194.40" r="1.9" fill="none" stroke="#555" stroke-width="0.7"/>
<path d="M76.50,120.60 L78.60,118.50 L80.70,120.60 L78.60,122.70Z" fill="#161616"/>
<path d="M84.40,125.10 L86.50,123.00 L88.60,125.10 L86.50,127.20Z" fill="#161616"/>
<path d="M91.90,134.20 L94.00,132.10 L96.10,134.20 L94.00,136.30Z" fill="#161616"/>
<path d="M100.20,164.90 L102.30,162.80 L104.40,164.90 L102.30,167.00Z" fill="#161616"/>
<path d="M115.90,216.30 L118.00,214.20 L120.10,216.30 L118.00,218.40Z" fill="#161616"/>
<path d="M123.70,235.60 L125.80,233.50 L127.90,235.60 L125.80,237.70Z" fill="#161616"/>
<path d="M139.30,252.80 L141.40,250.70 L143.50,252.80 L141.40,254.90Z" fill="#161616"/>
<path d="M155.20,267.90 L157.30,265.80 L159.40,267.90 L157.30,270.00Z" fill="#161616"/>
<path d="M170.30,269.60 L172.40,267.50 L174.50,269.60 L172.40,271.70Z" fill="#161616"/>
<path d="M185.90,270.00 L188.00,267.90 L190.10,270.00 L188.00,272.10Z" fill="#161616"/>
<path d="M201.50,270.20 L203.60,268.10 L205.70,270.20 L203.60,272.30Z" fill="#161616"/>
<path d="M216.90,270.30 L219.00,268.20 L221.10,270.30 L219.00,272.40Z" fill="#161616"/>
<path d="M232.60,270.30 L234.70,268.20 L236.80,270.30 L234.70,272.40Z" fill="#161616"/>
<path d="M270.90,270.30 L273.00,268.20 L275.10,270.30 L273.00,272.40Z" fill="#161616"/>
<rect x="191.30" y="122.10" width="75.60" height="30.70" fill="#fff" stroke="#161616" stroke-width="0.8"/>
<line x1="193.70" y1="127.30" x2="204.30" y2="127.30" stroke="#161616" stroke-width="1.3"/>
<text x="212.60" y="129.10" font-size="5.0" text-anchor="start" font-family="&quot;Liberation Serif&quot;,&quot;Noto Serif CJK SC&quot;,serif" font-weight="600" fill="#161616" stroke="#161616" stroke-width="0.14" textLength="49.6" lengthAdjust="spacingAndGlyphs">微生物浓度模拟值</text>
<line x1="193.70" y1="135.00" x2="204.30" y2="135.00" stroke="#161616" stroke-width="1.3" stroke-dasharray="2.6 1.3"/>
<text x="212.60" y="136.80" font-size="5.0" text-anchor="start" font-family="&quot;Liberation Serif&quot;,&quot;Noto Serif CJK SC&quot;,serif" font-weight="600" fill="#161616" stroke="#161616" stroke-width="0.14" textLength="49.6" lengthAdjust="spacingAndGlyphs">有机物浓度模拟值</text>
<circle cx="199.00" cy="142.40" r="1.71" fill="none" stroke="#555" stroke-width="0.7"/>
<text x="212.60" y="144.20" font-size="5.0" text-anchor="start" font-family="&quot;Liberation Serif&quot;,&quot;Noto Serif CJK SC&quot;,serif" font-weight="600" fill="#161616" stroke="#161616" stroke-width="0.14" textLength="49.6" lengthAdjust="spacingAndGlyphs">微生物浓度实测值</text>
<path d="M197.30,148.90 L199.00,147.20 L200.70,148.90 L199.00,150.60Z" fill="#161616"/>
<text x="212.60" y="150.70" font-size="5.0" text-anchor="start" font-family="&quot;Liberation Serif&quot;,&quot;Noto Serif CJK SC&quot;,serif" font-weight="600" fill="#161616" stroke="#161616" stroke-width="0.14" textLength="49.6" lengthAdjust="spacingAndGlyphs">有机物浓度实测值</text>
<line x1="370.70" y1="118.90" x2="370.70" y2="271.00" stroke="#333" stroke-width="0.8" stroke-linecap="square"/>
<line x1="565.40" y1="118.90" x2="565.40" y2="271.00" stroke="#444" stroke-width="0.8" stroke-linecap="square"/>
<line x1="370.70" y1="118.90" x2="565.40" y2="118.90" stroke="#999" stroke-width="0.7" stroke-linecap="square"/>
<line x1="370.70" y1="271.00" x2="565.40" y2="271.00" stroke="#999" stroke-width="0.7" stroke-linecap="square"/>
<text x="369.60" y="280.00" font-size="10.5" text-anchor="middle" font-family="&quot;Liberation Serif&quot;,&quot;Noto Serif CJK SC&quot;,serif" font-weight="normal" fill="#161616" stroke="#161616" stroke-width="0.2">0</text>
<line x1="390.17" y1="271.00" x2="390.17" y2="269.00" stroke="#777" stroke-width="0.7"/>
<line x1="390.17" y1="118.90" x2="390.17" y2="120.90" stroke="#777" stroke-width="0.7"/>
<text x="389.40" y="280.00" font-size="10.5" text-anchor="middle" font-family="&quot;Liberation Serif&quot;,&quot;Noto Serif CJK SC&quot;,serif" font-weight="normal" fill="#161616" stroke="#161616" stroke-width="0.2">5</text>
<line x1="409.64" y1="271.00" x2="409.64" y2="269.00" stroke="#777" stroke-width="0.7"/>
<line x1="409.64" y1="118.90" x2="409.64" y2="120.90" stroke="#777" stroke-width="0.7"/>
<text x="409.20" y="280.00" font-size="10.5" text-anchor="middle" font-family="&quot;Liberation Serif&quot;,&quot;Noto Serif CJK SC&quot;,serif" font-weight="normal" fill="#161616" stroke="#161616" stroke-width="0.2">10</text>
<line x1="429.11" y1="271.00" x2="429.11" y2="269.00" stroke="#777" stroke-width="0.7"/>
<line x1="429.11" y1="118.90" x2="429.11" y2="120.90" stroke="#777" stroke-width="0.7"/>
<text x="429.00" y="280.00" font-size="10.5" text-anchor="middle" font-family="&quot;Liberation Serif&quot;,&quot;Noto Serif CJK SC&quot;,serif" font-weight="normal" fill="#161616" stroke="#161616" stroke-width="0.2">15</text>
<line x1="448.58" y1="271.00" x2="448.58" y2="269.00" stroke="#777" stroke-width="0.7"/>
<line x1="448.58" y1="118.90" x2="448.58" y2="120.90" stroke="#777" stroke-width="0.7"/>
<text x="448.80" y="280.00" font-size="10.5" text-anchor="middle" font-family="&quot;Liberation Serif&quot;,&quot;Noto Serif CJK SC&quot;,serif" font-weight="normal" fill="#161616" stroke="#161616" stroke-width="0.2">20</text>
<line x1="468.05" y1="271.00" x2="468.05" y2="269.00" stroke="#777" stroke-width="0.7"/>
<line x1="468.05" y1="118.90" x2="468.05" y2="120.90" stroke="#777" stroke-width="0.7"/>
<text x="468.60" y="280.00" font-size="10.5" text-anchor="middle" font-family="&quot;Liberation Serif&quot;,&quot;Noto Serif CJK SC&quot;,serif" font-weight="normal" fill="#161616" stroke="#161616" stroke-width="0.2">25</text>
<line x1="487.52" y1="271.00" x2="487.52" y2="269.00" stroke="#777" stroke-width="0.7"/>
<line x1="487.52" y1="118.90" x2="487.52" y2="120.90" stroke="#777" stroke-width="0.7"/>
<text x="488.40" y="280.00" font-size="10.5" text-anchor="middle" font-family="&quot;Liberation Serif&quot;,&quot;Noto Serif CJK SC&quot;,serif" font-weight="normal" fill="#161616" stroke="#161616" stroke-width="0.2">30</text>
<line x1="506.99" y1="271.00" x2="506.99" y2="269.00" stroke="#777" stroke-width="0.7"/>
<line x1="506.99" y1="118.90" x2="506.99" y2="120.90" stroke="#777" stroke-width="0.7"/>
<text x="508.20" y="280.00" font-size="10.5" text-anchor="middle" font-family="&quot;Liberation Serif&quot;,&quot;Noto Serif CJK SC&quot;,serif" font-weight="normal" fill="#161616" stroke="#161616" stroke-width="0.2">35</text>
<line x1="526.46" y1="271.00" x2="526.46" y2="269.00" stroke="#777" stroke-width="0.7"/>
<line x1="526.46" y1="118.90" x2="526.46" y2="120.90" stroke="#777" stroke-width="0.7"/>
<text x="528.00" y="280.00" font-size="10.5" text-anchor="middle" font-family="&quot;Liberation Serif&quot;,&quot;Noto Serif CJK SC&quot;,serif" font-weight="normal" fill="#161616" stroke="#161616" stroke-width="0.2">40</text>
<line x1="545.93" y1="271.00" x2="545.93" y2="269.00" stroke="#777" stroke-width="0.7"/>
<line x1="545.93" y1="118.90" x2="545.93" y2="120.90" stroke="#777" stroke-width="0.7"/>
<text x="547.80" y="280.00" font-size="10.5" text-anchor="middle" font-family="&quot;Liberation Serif&quot;,&quot;Noto Serif CJK SC&quot;,serif" font-weight="normal" fill="#161616" stroke="#161616" stroke-width="0.2">45</text>
<text x="567.60" y="280.00" font-size="10.5" text-anchor="middle" font-family="&quot;Liberation Serif&quot;,&quot;Noto Serif CJK SC&quot;,serif" font-weight="normal" fill="#161616" stroke="#161616" stroke-width="0.2">50</text>
<text x="354.00" y="124.80" font-size="10.5" text-anchor="start" font-family="&quot;Liberation Serif&quot;,&quot;Noto Serif CJK SC&quot;,serif" font-weight="normal" fill="#161616" stroke="#161616" stroke-width="0.2" textLength="9.5" lengthAdjust="spacingAndGlyphs">10</text>
<text x="363.90" y="120.60" font-size="5.4" text-anchor="start" font-family="&quot;Liberation Serif&quot;,&quot;Noto Serif CJK SC&quot;,serif" font-weight="normal" fill="#161616" stroke="#161616" stroke-width="0.15">3</text>
<line x1="370.70" y1="144.25" x2="372.70" y2="144.25" stroke="#777" stroke-width="0.7"/>
<line x1="565.40" y1="144.25" x2="563.40" y2="144.25" stroke="#777" stroke-width="0.7"/>
<text x="354.00" y="149.80" font-size="10.5" text-anchor="start" font-family="&quot;Liberation Serif&quot;,&quot;Noto Serif CJK SC&quot;,serif" font-weight="normal" fill="#161616" stroke="#161616" stroke-width="0.2" textLength="9.5" lengthAdjust="spacingAndGlyphs">10</text>
<text x="363.90" y="145.60" font-size="5.4" text-anchor="start" font-family="&quot;Liberation Serif&quot;,&quot;Noto Serif CJK SC&quot;,serif" font-weight="normal" fill="#161616" stroke="#161616" stroke-width="0.15">2</text>
<line x1="370.70" y1="169.60" x2="372.70" y2="169.60" stroke="#777" stroke-width="0.7"/>
<line x1="565.40" y1="169.60" x2="563.40" y2="169.60" stroke="#777" stroke-width="0.7"/>
<text x="354.00" y="174.50" font-size="10.5" text-anchor="start" font-family="&quot;Liberation Serif&quot;,&quot;Noto Serif CJK SC&quot;,serif" font-weight="normal" fill="#161616" stroke="#161616" stroke-width="0.2" textLength="9.5" lengthAdjust="spacingAndGlyphs">10</text>
<text x="363.90" y="170.30" font-size="5.4" text-anchor="start" font-family="&quot;Liberation Serif&quot;,&quot;Noto Serif CJK SC&quot;,serif" font-weight="normal" fill="#161616" stroke="#161616" stroke-width="0.15">1</text>
<line x1="370.70" y1="194.95" x2="372.70" y2="194.95" stroke="#777" stroke-width="0.7"/>
<line x1="565.40" y1="194.95" x2="563.40" y2="194.95" stroke="#777" stroke-width="0.7"/>
<text x="354.00" y="199.10" font-size="10.5" text-anchor="start" font-family="&quot;Liberation Serif&quot;,&quot;Noto Serif CJK SC&quot;,serif" font-weight="normal" fill="#161616" stroke="#161616" stroke-width="0.2" textLength="9.5" lengthAdjust="spacingAndGlyphs">10</text>
<text x="363.90" y="194.90" font-size="5.4" text-anchor="start" font-family="&quot;Liberation Serif&quot;,&quot;Noto Serif CJK SC&quot;,serif" font-weight="normal" fill="#161616" stroke="#161616" stroke-width="0.15">0</text>
<line x1="370.70" y1="220.30" x2="372.70" y2="220.30" stroke="#777" stroke-width="0.7"/>
<line x1="565.40" y1="220.30" x2="563.40" y2="220.30" stroke="#777" stroke-width="0.7"/>
<text x="354.00" y="223.50" font-size="10.5" text-anchor="start" font-family="&quot;Liberation Serif&quot;,&quot;Noto Serif CJK SC&quot;,serif" font-weight="normal" fill="#161616" stroke="#161616" stroke-width="0.2" textLength="9.5" lengthAdjust="spacingAndGlyphs">10</text>
<text x="363.90" y="219.30" font-size="5.4" text-anchor="start" font-family="&quot;Liberation Serif&quot;,&quot;Noto Serif CJK SC&quot;,serif" font-weight="normal" fill="#161616" stroke="#161616" stroke-width="0.15">-1</text>
<line x1="370.70" y1="245.65" x2="372.70" y2="245.65" stroke="#777" stroke-width="0.7"/>
<line x1="565.40" y1="245.65" x2="563.40" y2="245.65" stroke="#777" stroke-width="0.7"/>
<text x="354.00" y="248.30" font-size="10.5" text-anchor="start" font-family="&quot;Liberation Serif&quot;,&quot;Noto Serif CJK SC&quot;,serif" font-weight="normal" fill="#161616" stroke="#161616" stroke-width="0.2" textLength="9.5" lengthAdjust="spacingAndGlyphs">10</text>
<text x="363.90" y="244.10" font-size="5.4" text-anchor="start" font-family="&quot;Liberation Serif&quot;,&quot;Noto Serif CJK SC&quot;,serif" font-weight="normal" fill="#161616" stroke="#161616" stroke-width="0.15">-2</text>
<text x="354.00" y="271.80" font-size="10.5" text-anchor="start" font-family="&quot;Liberation Serif&quot;,&quot;Noto Serif CJK SC&quot;,serif" font-weight="normal" fill="#161616" stroke="#161616" stroke-width="0.2" textLength="9.5" lengthAdjust="spacingAndGlyphs">10</text>
<text x="363.90" y="267.60" font-size="5.4" text-anchor="start" font-family="&quot;Liberation Serif&quot;,&quot;Noto Serif CJK SC&quot;,serif" font-weight="normal" fill="#161616" stroke="#161616" stroke-width="0.15">-3</text>
<text x="473.80" y="292.00" font-size="10.4" text-anchor="middle" font-family="&quot;Liberation Serif&quot;,&quot;Noto Serif CJK SC&quot;,serif" font-weight="500" fill="#161616" stroke="#161616" stroke-width="0.2">时间 /h</text>
<text transform="translate(339.20,192.20) rotate(-90)" font-size="10" text-anchor="middle" font-family="&quot;Liberation Serif&quot;,&quot;Noto Serif CJK SC&quot;,serif" font-weight="500" fill="#161616" stroke="#161616" stroke-width="0.2" textLength="47.5" lengthAdjust="spacingAndGlyphs">浓度 /mg/L</text>
<clipPath id="cp2"><rect x="369.70" y="117.90" width="196.70" height="154.10"/></clipPath>
<g clip-path="url(#cp2)">
<path d="M370.30,156.60 L371.53,156.08 L372.75,155.52 L373.98,154.94 L375.21,154.33 L376.44,153.69 L377.66,153.03 L378.89,152.33 L380.12,151.59 L381.34,150.80 L382.57,149.99 L383.80,149.18 L385.02,148.37 L386.25,147.57 L387.48,146.77 L388.71,145.95 L389.93,145.13 L391.16,144.33 L392.39,143.56 L393.61,142.85 L394.84,142.17 L396.07,141.51 L397.29,140.87 L398.52,140.25 L399.75,139.66 L400.98,139.11 L402.20,138.60 L403.43,138.14 L404.66,137.72 L405.88,137.32 L407.11,136.96 L408.34,136.64 L409.57,136.34 L410.79,136.05 L412.02,135.77 L413.25,135.51 L414.47,135.28 L415.70,135.11 L416.93,135.00 L418.15,134.93 L419.38,134.86 L420.61,134.80 L421.84,134.74 L423.06,134.69 L424.29,134.64 L425.52,134.60 L426.74,134.57 L427.97,134.54 L429.20,134.52 L430.43,134.51 L431.65,134.50 L432.88,134.50 L434.11,134.50 L435.33,134.50 L436.56,134.50 L437.79,134.50 L439.01,134.50 L440.24,134.50 L441.47,134.50 L442.70,134.50 L443.92,134.50 L445.15,134.50 L446.38,134.50 L447.60,134.50 L448.83,134.50 L450.06,134.50 L451.28,134.50 L452.51,134.51 L453.74,134.51 L454.97,134.51 L456.19,134.52 L457.42,134.53 L458.65,134.53 L459.87,134.54 L461.10,134.55 L462.33,134.56 L463.56,134.56 L464.78,134.57 L466.01,134.58 L467.24,134.59 L468.46,134.60 L469.69,134.61 L470.92,134.62 L472.14,134.63 L473.37,134.65 L474.60,134.66 L475.83,134.67 L477.05,134.68 L478.28,134.69 L479.51,134.70 L480.73,134.71 L481.96,134.72 L483.19,134.74 L484.42,134.75 L485.64,134.77 L486.87,134.78 L488.10,134.80 L489.32,134.81 L490.55,134.83 L491.78,134.85 L493.00,134.87 L494.23,134.89 L495.46,134.91 L496.69,134.93 L497.91,134.95 L499.14,134.97 L500.37,134.99 L501.59,135.01 L502.82,135.03 L504.05,135.06 L505.27,135.08 L506.50,135.10 L507.73,135.13 L508.96,135.15 L510.18,135.18 L511.41,135.20 L512.64,135.22 L513.86,135.25 L515.09,135.27 L516.32,135.30 L517.55,135.33 L518.77,135.35 L520.00,135.38 L521.23,135.40 L522.45,135.43 L523.68,135.45 L524.91,135.48 L526.13,135.50 L527.36,135.53 L528.59,135.55 L529.82,135.58 L531.04,135.61 L532.27,135.63 L533.50,135.66 L534.72,135.69 L535.95,135.72 L537.18,135.75 L538.41,135.78 L539.63,135.81 L540.86,135.84 L542.09,135.87 L543.31,135.90 L544.54,135.93 L545.77,135.96 L546.99,135.99 L548.22,136.02 L549.45,136.06 L550.68,136.09 L551.90,136.12 L553.13,136.15 L554.36,136.19 L555.58,136.22 L556.81,136.26 L558.04,136.29 L559.26,136.32 L560.49,136.36 L561.72,136.39 L562.95,136.43 L564.17,136.46 L565.40,136.50" fill="none" stroke="#777" stroke-width="0.7" stroke-linejoin="round"/>
<path d="M370.30,130.20 L371.51,130.21 L372.71,130.23 L373.92,130.28 L375.13,130.33 L376.33,130.40 L377.54,130.48 L378.74,130.58 L379.95,130.68 L381.16,130.79 L382.36,130.91 L383.57,131.04 L384.78,131.17 L385.98,131.34 L387.19,131.56 L388.39,131.84 L389.60,132.17 L390.81,132.52 L392.01,132.89 L393.22,133.27 L394.43,133.68 L395.63,134.15 L396.84,134.65 L398.04,135.17 L399.25,135.71 L400.46,136.26 L401.66,136.80 L402.87,137.34 L404.08,137.89 L405.28,138.46 L406.49,139.05 L407.69,139.66 L408.90,140.30 L410.11,140.97 L411.31,141.68 L412.52,142.42 L413.73,143.19 L414.93,143.97 L416.14,144.78 L417.35,145.61 L418.55,146.45 L419.76,147.32 L420.96,148.22 L422.17,149.13 L423.38,150.05 L424.58,151.00 L425.79,151.95 L427.00,152.92 L428.20,153.89 L429.41,154.88 L430.61,155.86 L431.82,156.85 L433.03,157.85 L434.23,158.87 L435.44,159.90 L436.65,160.95 L437.85,162.02 L439.06,163.09 L440.26,164.17 L441.47,165.25 L442.68,166.33 L443.88,167.42 L445.09,168.49 L446.30,169.57 L447.50,170.63 L448.71,171.69 L449.92,172.73 L451.12,173.76 L452.33,174.78 L453.53,175.81 L454.74,176.83 L455.95,177.85 L457.15,178.87 L458.36,179.88 L459.57,180.89 L460.77,181.90 L461.98,182.91 L463.18,183.92 L464.39,184.92 L465.60,185.92 L466.80,186.92 L468.01,187.92 L469.22,188.92 L470.42,189.91 L471.63,190.91 L472.83,191.90 L474.04,192.89 L475.25,193.88 L476.45,194.87 L477.66,195.86 L478.87,196.84 L480.07,197.83 L481.28,198.82 L482.48,199.80 L483.69,200.78 L484.90,201.77 L486.10,202.75 L487.31,203.73 L488.52,204.72 L489.72,205.70 L490.93,206.68 L492.14,207.66 L493.34,208.65 L494.55,209.63 L495.75,210.61 L496.96,211.59 L498.17,212.58 L499.37,213.56 L500.58,214.55 L501.79,215.53 L502.99,216.52 L504.20,217.50 L505.40,218.48 L506.61,219.47 L507.82,220.45 L509.02,221.43 L510.23,222.41 L511.44,223.39 L512.64,224.37 L513.85,225.35 L515.05,226.33 L516.26,227.31 L517.47,228.29 L518.67,229.27 L519.88,230.25 L521.09,231.23 L522.29,232.21 L523.50,233.18 L524.71,234.16 L525.91,235.14 L527.12,236.11 L528.32,237.09 L529.53,238.06 L530.74,239.03 L531.94,240.01 L533.15,240.98 L534.36,241.96 L535.56,242.93 L536.77,243.90 L537.97,244.87 L539.18,245.84 L540.39,246.81 L541.59,247.78 L542.80,248.75 L544.01,249.72 L545.21,250.69 L546.42,251.66 L547.62,252.63 L548.83,253.59 L550.04,254.56 L551.24,255.53 L552.45,256.49 L553.66,257.46 L554.86,258.42 L556.07,259.39 L557.27,260.35 L558.48,261.31 L559.69,262.28 L560.89,263.24 L562.10,264.20" fill="none" stroke="#161616" stroke-width="1.3" stroke-linejoin="round" stroke-dasharray="3 1.3"/>
</g>
<circle cx="370.30" cy="156.60" r="2.05" fill="none" stroke="#333" stroke-width="1.5"/>
<circle cx="377.90" cy="156.10" r="2.05" fill="none" stroke="#333" stroke-width="1.5"/>
<circle cx="385.90" cy="149.60" r="2.05" fill="none" stroke="#333" stroke-width="1.5"/>
<circle cx="393.70" cy="144.60" r="2.05" fill="none" stroke="#333" stroke-width="1.5"/>
<circle cx="408.90" cy="136.50" r="2.05" fill="none" stroke="#333" stroke-width="1.5"/>
<circle cx="416.90" cy="135.20" r="2.05" fill="none" stroke="#333" stroke-width="1.5"/>
<circle cx="432.00" cy="134.50" r="2.05" fill="none" stroke="#333" stroke-width="1.5"/>
<circle cx="447.90" cy="134.50" r="2.05" fill="none" stroke="#333" stroke-width="1.5"/>
<circle cx="463.70" cy="134.60" r="2.05" fill="none" stroke="#333" stroke-width="1.5"/>
<circle cx="479.50" cy="134.70" r="2.05" fill="none" stroke="#333" stroke-width="1.5"/>
<circle cx="494.80" cy="135.00" r="2.05" fill="none" stroke="#333" stroke-width="1.5"/>
<circle cx="510.50" cy="135.20" r="2.05" fill="none" stroke="#333" stroke-width="1.5"/>
<circle cx="526.10" cy="135.50" r="2.05" fill="none" stroke="#333" stroke-width="1.5"/>
<circle cx="564.60" cy="136.50" r="2.05" fill="none" stroke="#333" stroke-width="1.5"/>
<path d="M368.70,130.20 L370.30,128.60 L371.90,130.20 L370.30,131.80Z" fill="#161616"/>
<path d="M367.90,130.20 L372.70,130.20 M370.30,127.80 L370.30,132.60" stroke="#161616" stroke-width="0.6" fill="none"/>
<path d="M376.30,130.20 L377.90,128.60 L379.50,130.20 L377.90,131.80Z" fill="#161616"/>
<path d="M375.50,130.20 L380.30,130.20 M377.90,127.80 L377.90,132.60" stroke="#161616" stroke-width="0.6" fill="none"/>
<path d="M384.30,131.50 L385.90,129.90 L387.50,131.50 L385.90,133.10Z" fill="#161616"/>
<path d="M383.50,131.50 L388.30,131.50 M385.90,129.10 L385.90,133.90" stroke="#161616" stroke-width="0.6" fill="none"/>
<path d="M392.10,134.00 L393.70,132.40 L395.30,134.00 L393.70,135.60Z" fill="#161616"/>
<path d="M391.30,134.00 L396.10,134.00 M393.70,131.60 L393.70,136.40" stroke="#161616" stroke-width="0.6" fill="none"/>
<path d="M407.30,141.50 L408.90,139.90 L410.50,141.50 L408.90,143.10Z" fill="#161616"/>
<path d="M406.50,141.50 L411.30,141.50 M408.90,139.10 L408.90,143.90" stroke="#161616" stroke-width="0.6" fill="none"/>
<path d="M415.30,145.80 L416.90,144.20 L418.50,145.80 L416.90,147.40Z" fill="#161616"/>
<path d="M414.50,145.80 L419.30,145.80 M416.90,143.40 L416.90,148.20" stroke="#161616" stroke-width="0.6" fill="none"/>
<path d="M430.40,153.60 L432.00,152.00 L433.60,153.60 L432.00,155.20Z" fill="#161616"/>
<path d="M429.60,153.60 L434.40,153.60 M432.00,151.20 L432.00,156.00" stroke="#161616" stroke-width="0.6" fill="none"/>
<path d="M447.30,173.00 L448.90,171.40 L450.50,173.00 L448.90,174.60Z" fill="#161616"/>
<path d="M446.50,173.00 L451.30,173.00 M448.90,170.60 L448.90,175.40" stroke="#161616" stroke-width="0.6" fill="none"/>
<path d="M462.70,188.10 L464.30,186.50 L465.90,188.10 L464.30,189.70Z" fill="#161616"/>
<path d="M461.90,188.10 L466.70,188.10 M464.30,185.70 L464.30,190.50" stroke="#161616" stroke-width="0.6" fill="none"/>
<path d="M478.60,203.80 L480.20,202.20 L481.80,203.80 L480.20,205.40Z" fill="#161616"/>
<path d="M477.80,203.80 L482.60,203.80 M480.20,201.40 L480.20,206.20" stroke="#161616" stroke-width="0.6" fill="none"/>
<path d="M493.80,210.50 L495.40,208.90 L497.00,210.50 L495.40,212.10Z" fill="#161616"/>
<path d="M493.00,210.50 L497.80,210.50 M495.40,208.10 L495.40,212.90" stroke="#161616" stroke-width="0.6" fill="none"/>
<path d="M509.40,232.30 L511.00,230.70 L512.60,232.30 L511.00,233.90Z" fill="#161616"/>
<path d="M508.60,232.30 L513.40,232.30 M511.00,229.90 L511.00,234.70" stroke="#161616" stroke-width="0.6" fill="none"/>
<path d="M525.20,239.80 L526.80,238.20 L528.40,239.80 L526.80,241.40Z" fill="#161616"/>
<path d="M524.40,239.80 L529.20,239.80 M526.80,237.40 L526.80,242.20" stroke="#161616" stroke-width="0.6" fill="none"/>
<path d="M563.80,258.00 L565.40,256.40 L567.00,258.00 L565.40,259.60Z" fill="#161616"/>
<path d="M563.00,258.00 L567.80,258.00 M565.40,255.60 L565.40,260.40" stroke="#161616" stroke-width="0.6" fill="none"/>
<rect x="481.00" y="142.80" width="79.10" height="31.50" fill="#fff" stroke="#161616" stroke-width="0.8"/>
<line x1="483.70" y1="146.60" x2="494.30" y2="146.60" stroke="#777" stroke-width="0.7"/>
<text x="500.40" y="148.40" font-size="5.0" text-anchor="start" font-family="&quot;Liberation Serif&quot;,&quot;Noto Serif CJK SC&quot;,serif" font-weight="600" fill="#161616" stroke="#161616" stroke-width="0.14" textLength="51.6" lengthAdjust="spacingAndGlyphs">微生物浓度模拟值</text>
<line x1="483.70" y1="153.80" x2="494.30" y2="153.80" stroke="#161616" stroke-width="1.3" stroke-dasharray="2.6 1.3"/>
<text x="500.40" y="155.60" font-size="5.0" text-anchor="start" font-family="&quot;Liberation Serif&quot;,&quot;Noto Serif CJK SC&quot;,serif" font-weight="600" fill="#161616" stroke="#161616" stroke-width="0.14" textLength="51.6" lengthAdjust="spacingAndGlyphs">有机物浓度模拟值</text>
<circle cx="489.00" cy="162.20" r="1.84" fill="none" stroke="#333" stroke-width="1.5"/>
<text x="500.40" y="164.00" font-size="5.0" text-anchor="start" font-family="&quot;Liberation Serif&quot;,&quot;Noto Serif CJK SC&quot;,serif" font-weight="600" fill="#161616" stroke="#161616" stroke-width="0.14" textLength="51.6" lengthAdjust="spacingAndGlyphs">微生物浓度实测值</text>
<path d="M487.30,170.00 L489.00,168.30 L490.70,170.00 L489.00,171.70Z" fill="#161616"/>
<text x="500.40" y="171.80" font-size="5.0" text-anchor="start" font-family="&quot;Liberation Serif&quot;,&quot;Noto Serif CJK SC&quot;,serif" font-weight="600" fill="#161616" stroke="#161616" stroke-width="0.14" textLength="51.6" lengthAdjust="spacingAndGlyphs">有机物浓度实测值</text>
<line x1="82.40" y1="362.40" x2="82.40" y2="513.00" stroke="#888" stroke-width="0.8" stroke-linecap="square"/>
<line x1="276.80" y1="362.40" x2="276.80" y2="513.00" stroke="#333" stroke-width="0.9" stroke-linecap="square"/>
<line x1="82.40" y1="362.40" x2="276.80" y2="362.40" stroke="#333" stroke-width="0.9" stroke-linecap="square"/>
<line x1="82.40" y1="513.00" x2="276.80" y2="513.00" stroke="#333" stroke-width="0.9" stroke-linecap="square"/>
<text x="82.70" y="523.80" font-size="11" text-anchor="middle" font-family="&quot;Liberation Serif&quot;,&quot;Noto Serif CJK SC&quot;,serif" font-weight="normal" fill="#161616" stroke="#161616" stroke-width="0.2">0</text>
<line x1="101.84" y1="513.00" x2="101.84" y2="511.00" stroke="#333" stroke-width="0.7"/>
<line x1="101.84" y1="362.40" x2="101.84" y2="364.40" stroke="#333" stroke-width="0.7"/>
<text x="102.55" y="523.80" font-size="11" text-anchor="middle" font-family="&quot;Liberation Serif&quot;,&quot;Noto Serif CJK SC&quot;,serif" font-weight="normal" fill="#161616" stroke="#161616" stroke-width="0.2">5</text>
<line x1="121.28" y1="513.00" x2="121.28" y2="511.00" stroke="#333" stroke-width="0.7"/>
<line x1="121.28" y1="362.40" x2="121.28" y2="364.40" stroke="#333" stroke-width="0.7"/>
<text x="122.40" y="523.80" font-size="11" text-anchor="middle" font-family="&quot;Liberation Serif&quot;,&quot;Noto Serif CJK SC&quot;,serif" font-weight="normal" fill="#161616" stroke="#161616" stroke-width="0.2">10</text>
<line x1="140.72" y1="513.00" x2="140.72" y2="511.00" stroke="#333" stroke-width="0.7"/>
<line x1="140.72" y1="362.40" x2="140.72" y2="364.40" stroke="#333" stroke-width="0.7"/>
<text x="142.25" y="523.80" font-size="11" text-anchor="middle" font-family="&quot;Liberation Serif&quot;,&quot;Noto Serif CJK SC&quot;,serif" font-weight="normal" fill="#161616" stroke="#161616" stroke-width="0.2">15</text>
<line x1="160.16" y1="513.00" x2="160.16" y2="511.00" stroke="#333" stroke-width="0.7"/>
<line x1="160.16" y1="362.40" x2="160.16" y2="364.40" stroke="#333" stroke-width="0.7"/>
<text x="162.10" y="523.80" font-size="11" text-anchor="middle" font-family="&quot;Liberation Serif&quot;,&quot;Noto Serif CJK SC&quot;,serif" font-weight="normal" fill="#161616" stroke="#161616" stroke-width="0.2">20</text>
<line x1="179.60" y1="513.00" x2="179.60" y2="511.00" stroke="#333" stroke-width="0.7"/>
<line x1="179.60" y1="362.40" x2="179.60" y2="364.40" stroke="#333" stroke-width="0.7"/>
<text x="181.95" y="523.80" font-size="11" text-anchor="middle" font-family="&quot;Liberation Serif&quot;,&quot;Noto Serif CJK SC&quot;,serif" font-weight="normal" fill="#161616" stroke="#161616" stroke-width="0.2">25</text>
<line x1="199.04" y1="513.00" x2="199.04" y2="511.00" stroke="#333" stroke-width="0.7"/>
<line x1="199.04" y1="362.40" x2="199.04" y2="364.40" stroke="#333" stroke-width="0.7"/>
<text x="201.80" y="523.80" font-size="11" text-anchor="middle" font-family="&quot;Liberation Serif&quot;,&quot;Noto Serif CJK SC&quot;,serif" font-weight="normal" fill="#161616" stroke="#161616" stroke-width="0.2">30</text>
<line x1="218.48" y1="513.00" x2="218.48" y2="511.00" stroke="#333" stroke-width="0.7"/>
<line x1="218.48" y1="362.40" x2="218.48" y2="364.40" stroke="#333" stroke-width="0.7"/>
<text x="221.65" y="523.80" font-size="11" text-anchor="middle" font-family="&quot;Liberation Serif&quot;,&quot;Noto Serif CJK SC&quot;,serif" font-weight="normal" fill="#161616" stroke="#161616" stroke-width="0.2">35</text>
<line x1="237.92" y1="513.00" x2="237.92" y2="511.00" stroke="#333" stroke-width="0.7"/>
<line x1="237.92" y1="362.40" x2="237.92" y2="364.40" stroke="#333" stroke-width="0.7"/>
<text x="241.50" y="523.80" font-size="11" text-anchor="middle" font-family="&quot;Liberation Serif&quot;,&quot;Noto Serif CJK SC&quot;,serif" font-weight="normal" fill="#161616" stroke="#161616" stroke-width="0.2">40</text>
<line x1="257.36" y1="513.00" x2="257.36" y2="511.00" stroke="#333" stroke-width="0.7"/>
<line x1="257.36" y1="362.40" x2="257.36" y2="364.40" stroke="#333" stroke-width="0.7"/>
<text x="261.35" y="523.80" font-size="11" text-anchor="middle" font-family="&quot;Liberation Serif&quot;,&quot;Noto Serif CJK SC&quot;,serif" font-weight="normal" fill="#161616" stroke="#161616" stroke-width="0.2">45</text>
<text x="281.20" y="523.80" font-size="11" text-anchor="middle" font-family="&quot;Liberation Serif&quot;,&quot;Noto Serif CJK SC&quot;,serif" font-weight="normal" fill="#161616" stroke="#161616" stroke-width="0.2">50</text>
<text x="79.40" y="369.43" font-size="11" text-anchor="end" font-family="&quot;Liberation Serif&quot;,&quot;Noto Serif CJK SC&quot;,serif" font-weight="normal" fill="#161616" stroke="#161616" stroke-width="0.2">350</text>
<line x1="82.40" y1="387.50" x2="84.40" y2="387.50" stroke="#333" stroke-width="0.7"/>
<line x1="276.80" y1="387.50" x2="274.80" y2="387.50" stroke="#333" stroke-width="0.7"/>
<text x="79.40" y="393.83" font-size="11" text-anchor="end" font-family="&quot;Liberation Serif&quot;,&quot;Noto Serif CJK SC&quot;,serif" font-weight="normal" fill="#161616" stroke="#161616" stroke-width="0.2">300</text>
<line x1="82.40" y1="412.60" x2="84.40" y2="412.60" stroke="#333" stroke-width="0.7"/>
<line x1="276.80" y1="412.60" x2="274.80" y2="412.60" stroke="#333" stroke-width="0.7"/>
<text x="79.40" y="418.23" font-size="11" text-anchor="end" font-family="&quot;Liberation Serif&quot;,&quot;Noto Serif CJK SC&quot;,serif" font-weight="normal" fill="#161616" stroke="#161616" stroke-width="0.2">250</text>
<line x1="82.40" y1="437.70" x2="84.40" y2="437.70" stroke="#333" stroke-width="0.7"/>
<line x1="276.80" y1="437.70" x2="274.80" y2="437.70" stroke="#333" stroke-width="0.7"/>
<text x="79.40" y="442.63" font-size="11" text-anchor="end" font-family="&quot;Liberation Serif&quot;,&quot;Noto Serif CJK SC&quot;,serif" font-weight="normal" fill="#161616" stroke="#161616" stroke-width="0.2">150</text>
<line x1="82.40" y1="462.80" x2="84.40" y2="462.80" stroke="#333" stroke-width="0.7"/>
<line x1="276.80" y1="462.80" x2="274.80" y2="462.80" stroke="#333" stroke-width="0.7"/>
<text x="79.40" y="467.03" font-size="11" text-anchor="end" font-family="&quot;Liberation Serif&quot;,&quot;Noto Serif CJK SC&quot;,serif" font-weight="normal" fill="#161616" stroke="#161616" stroke-width="0.2">100</text>
<line x1="82.40" y1="487.90" x2="84.40" y2="487.90" stroke="#333" stroke-width="0.7"/>
<line x1="276.80" y1="487.90" x2="274.80" y2="487.90" stroke="#333" stroke-width="0.7"/>
<text x="79.40" y="491.43" font-size="11" text-anchor="end" font-family="&quot;Liberation Serif&quot;,&quot;Noto Serif CJK SC&quot;,serif" font-weight="normal" fill="#161616" stroke="#161616" stroke-width="0.2">50</text>
<text x="79.40" y="515.83" font-size="11" text-anchor="end" font-family="&quot;Liberation Serif&quot;,&quot;Noto Serif CJK SC&quot;,serif" font-weight="normal" fill="#161616" stroke="#161616" stroke-width="0.2">0</text>
<text x="185.20" y="536.50" font-size="10.4" text-anchor="middle" font-family="&quot;Liberation Serif&quot;,&quot;Noto Serif CJK SC&quot;,serif" font-weight="500" fill="#161616" stroke="#161616" stroke-width="0.2">时间 /h</text>
<text transform="translate(52.40,436.00) rotate(-90)" font-size="9.7" text-anchor="middle" font-family="&quot;Liberation Serif&quot;,&quot;Noto Serif CJK SC&quot;,serif" font-weight="500" fill="#161616" stroke="#161616" stroke-width="0.2" textLength="47.5" lengthAdjust="spacingAndGlyphs">浓度 /mg/L</text>
<clipPath id="cp3"><rect x="81.40" y="361.40" width="196.40" height="152.60"/></clipPath>
<g clip-path="url(#cp3)">
<path d="M82.70,499.20 L83.92,498.57 L85.14,497.75 L86.36,496.76 L87.58,495.64 L88.80,494.41 L90.02,493.09 L91.25,491.60 L92.47,489.79 L93.69,487.74 L94.91,485.55 L96.13,483.30 L97.35,481.09 L98.57,478.96 L99.79,476.83 L101.01,474.67 L102.23,472.47 L103.45,470.22 L104.67,467.91 L105.89,465.52 L107.12,463.00 L108.34,460.40 L109.56,457.79 L110.78,455.21 L112.00,452.62 L113.22,450.03 L114.44,447.48 L115.66,444.98 L116.88,442.57 L118.10,440.21 L119.32,437.90 L120.54,435.62 L121.76,433.34 L122.98,431.00 L124.21,428.68 L125.43,426.48 L126.65,424.52 L127.87,422.80 L129.09,421.18 L130.31,419.67 L131.53,418.31 L132.75,417.11 L133.97,416.06 L135.19,415.09 L136.41,414.20 L137.63,413.39 L138.85,412.64 L140.08,411.97 L141.30,411.36 L142.52,410.78 L143.74,410.25 L144.96,409.76 L146.18,409.32 L147.40,408.92 L148.62,408.59 L149.84,408.28 L151.06,408.00 L152.28,407.74 L153.50,407.51 L154.72,407.32 L155.95,407.17 L157.17,407.04 L158.39,406.92 L159.61,406.83 L160.83,406.80 L162.05,406.82 L163.27,406.86 L164.49,406.92 L165.71,407.00 L166.93,407.09 L168.15,407.19 L169.37,407.30 L170.59,407.44 L171.82,407.62 L173.04,407.82 L174.26,408.03 L175.48,408.26 L176.70,408.50 L177.92,408.74 L179.14,408.98 L180.36,409.20 L181.58,409.42 L182.80,409.63 L184.02,409.85 L185.24,410.07 L186.46,410.29 L187.68,410.51 L188.91,410.74 L190.13,410.96 L191.35,411.19 L192.57,411.41 L193.79,411.64 L195.01,411.87 L196.23,412.10 L197.45,412.32 L198.67,412.55 L199.89,412.78 L201.11,413.01 L202.33,413.24 L203.55,413.47 L204.78,413.70 L206.00,413.93 L207.22,414.16 L208.44,414.39 L209.66,414.63 L210.88,414.86 L212.10,415.09 L213.32,415.33 L214.54,415.56 L215.76,415.79 L216.98,416.03 L218.20,416.26 L219.42,416.49 L220.65,416.72 L221.87,416.95 L223.09,417.19 L224.31,417.42 L225.53,417.65 L226.75,417.88 L227.97,418.11 L229.19,418.34 L230.41,418.57 L231.63,418.80 L232.85,419.03 L234.07,419.27 L235.29,419.50 L236.52,419.73 L237.74,419.97 L238.96,420.20 L240.18,420.43 L241.40,420.67 L242.62,420.91 L243.84,421.14 L245.06,421.38 L246.28,421.62 L247.50,421.85 L248.72,422.09 L249.94,422.33 L251.16,422.57 L252.38,422.81 L253.61,423.05 L254.83,423.29 L256.05,423.53 L257.27,423.76 L258.49,424.00 L259.71,424.24 L260.93,424.48 L262.15,424.72 L263.37,424.96 L264.59,425.20 L265.81,425.44 L267.03,425.68 L268.25,425.92 L269.48,426.16 L270.70,426.40 L271.92,426.64 L273.14,426.88 L274.36,427.12 L275.58,427.36 L276.80,427.60" fill="none" stroke="#161616" stroke-width="1.3" stroke-linejoin="round"/>
<path d="M82.20,362.60 L83.42,364.47 L84.65,366.38 L85.87,368.36 L87.10,370.38 L88.32,372.45 L89.54,374.53 L90.77,376.67 L91.99,378.88 L93.22,381.22 L94.44,383.72 L95.66,386.44 L96.89,389.33 L98.11,392.35 L99.33,395.44 L100.56,398.56 L101.78,401.71 L103.01,404.95 L104.23,408.32 L105.45,411.86 L106.68,415.71 L107.90,419.81 L109.13,423.95 L110.35,427.94 L111.57,431.72 L112.80,435.41 L114.02,439.02 L115.25,442.60 L116.47,446.16 L117.69,449.75 L118.92,453.30 L120.14,456.72 L121.36,459.92 L122.59,462.94 L123.81,465.86 L125.04,468.68 L126.26,471.40 L127.48,474.04 L128.71,476.59 L129.93,479.08 L131.16,481.56 L132.38,483.98 L133.60,486.31 L134.83,488.50 L136.05,490.49 L137.28,492.27 L138.50,493.91 L139.72,495.47 L140.95,496.94 L142.17,498.30 L143.39,499.57 L144.62,500.75 L145.84,501.82 L147.07,502.82 L148.29,503.75 L149.51,504.62 L150.74,505.42 L151.96,506.14 L153.19,506.79 L154.41,507.40 L155.63,507.97 L156.86,508.50 L158.08,508.98 L159.31,509.40 L160.53,509.74 L161.75,510.01 L162.98,510.27 L164.20,510.52 L165.43,510.76 L166.65,510.98 L167.87,511.18 L169.10,511.36 L170.32,511.53 L171.54,511.68 L172.77,511.80 L173.99,511.90 L175.22,511.97 L176.44,512.02 L177.66,512.06 L178.89,512.11 L180.11,512.15 L181.34,512.18 L182.56,512.22 L183.78,512.26 L185.01,512.29 L186.23,512.32 L187.46,512.36 L188.68,512.38 L189.90,512.41 L191.13,512.44 L192.35,512.47 L193.57,512.49 L194.80,512.51 L196.02,512.54 L197.25,512.56 L198.47,512.58 L199.69,512.60 L200.92,512.62 L202.14,512.63 L203.37,512.65 L204.59,512.67 L205.81,512.68 L207.04,512.69 L208.26,512.71 L209.49,512.72 L210.71,512.73 L211.93,512.74 L213.16,512.75 L214.38,512.76 L215.61,512.77 L216.83,512.78 L218.05,512.79 L219.28,512.80 L220.50,512.80 L221.72,512.81 L222.95,512.82 L224.17,512.82 L225.40,512.83 L226.62,512.84 L227.84,512.85 L229.07,512.85 L230.29,512.86 L231.52,512.87 L232.74,512.87 L233.96,512.88 L235.19,512.88 L236.41,512.89 L237.64,512.90 L238.86,512.90 L240.08,512.91 L241.31,512.91 L242.53,512.92 L243.75,512.92 L244.98,512.93 L246.20,512.93 L247.43,512.94 L248.65,512.94 L249.87,512.95 L251.10,512.95 L252.32,512.96 L253.55,512.96 L254.77,512.96 L255.99,512.97 L257.22,512.97 L258.44,512.98 L259.67,512.98 L260.89,512.98 L262.11,512.98 L263.34,512.99 L264.56,512.99 L265.78,512.99 L267.01,512.99 L268.23,512.99 L269.46,513.00 L270.68,513.00 L271.90,513.00 L273.13,513.00 L274.35,513.00 L275.58,513.00 L276.80,513.00" fill="none" stroke="#161616" stroke-width="1.3" stroke-linejoin="round" stroke-dasharray="3 1.3"/>
</g>
<circle cx="82.70" cy="499.20" r="1.9" fill="none" stroke="#555" stroke-width="0.7"/>
<circle cx="90.70" cy="498.50" r="1.9" fill="none" stroke="#555" stroke-width="0.7"/>
<circle cx="98.30" cy="485.90" r="1.9" fill="none" stroke="#555" stroke-width="0.7"/>
<circle cx="106.10" cy="471.00" r="1.9" fill="none" stroke="#555" stroke-width="0.7"/>
<circle cx="121.20" cy="430.60" r="1.9" fill="none" stroke="#555" stroke-width="0.7"/>
<circle cx="128.80" cy="418.80" r="1.9" fill="none" stroke="#555" stroke-width="0.7"/>
<circle cx="144.90" cy="415.00" r="1.9" fill="none" stroke="#555" stroke-width="0.7"/>
<circle cx="160.30" cy="416.00" r="1.9" fill="none" stroke="#555" stroke-width="0.7"/>
<circle cx="175.90" cy="416.80" r="1.9" fill="none" stroke="#555" stroke-width="0.7"/>
<circle cx="191.30" cy="418.50" r="1.9" fill="none" stroke="#555" stroke-width="0.7"/>
<circle cx="206.90" cy="421.00" r="1.9" fill="none" stroke="#555" stroke-width="0.7"/>
<circle cx="222.40" cy="424.80" r="1.9" fill="none" stroke="#555" stroke-width="0.7"/>
<circle cx="238.30" cy="430.10" r="1.9" fill="none" stroke="#555" stroke-width="0.7"/>
<circle cx="276.80" cy="437.40" r="1.9" fill="none" stroke="#555" stroke-width="0.7"/>
<path d="M80.10,362.60 L82.20,360.50 L84.30,362.60 L82.20,364.70Z" fill="#161616"/>
<path d="M88.10,368.10 L90.20,366.00 L92.30,368.10 L90.20,370.20Z" fill="#161616"/>
<path d="M95.70,376.50 L97.80,374.40 L99.90,376.50 L97.80,378.60Z" fill="#161616"/>
<path d="M103.30,407.40 L105.40,405.30 L107.50,407.40 L105.40,409.50Z" fill="#161616"/>
<path d="M119.10,458.80 L121.20,456.70 L123.30,458.80 L121.20,460.90Z" fill="#161616"/>
<path d="M127.20,477.80 L129.30,475.70 L131.40,477.80 L129.30,479.90Z" fill="#161616"/>
<path d="M142.80,494.90 L144.90,492.80 L147.00,494.90 L144.90,497.00Z" fill="#161616"/>
<path d="M158.70,509.80 L160.80,507.70 L162.90,509.80 L160.80,511.90Z" fill="#161616"/>
<path d="M173.80,512.00 L175.90,509.90 L178.00,512.00 L175.90,514.10Z" fill="#161616"/>
<path d="M189.40,512.80 L191.50,510.70 L193.60,512.80 L191.50,514.90Z" fill="#161616"/>
<path d="M204.80,512.80 L206.90,510.70 L209.00,512.80 L206.90,514.90Z" fill="#161616"/>
<path d="M220.30,512.80 L222.40,510.70 L224.50,512.80 L222.40,514.90Z" fill="#161616"/>
<path d="M236.20,512.80 L238.30,510.70 L240.40,512.80 L238.30,514.90Z" fill="#161616"/>
<path d="M274.70,513.00 L276.80,510.90 L278.90,513.00 L276.80,515.10Z" fill="#161616"/>
<rect x="195.40" y="365.10" width="75.60" height="30.80" fill="#fff" stroke="#161616" stroke-width="0.8"/>
<line x1="198.40" y1="369.40" x2="209.00" y2="369.40" stroke="#161616" stroke-width="1.3"/>
<text x="215.60" y="371.20" font-size="5.0" text-anchor="start" font-family="&quot;Liberation Serif&quot;,&quot;Noto Serif CJK SC&quot;,serif" font-weight="600" fill="#161616" stroke="#161616" stroke-width="0.14" textLength="49.1" lengthAdjust="spacingAndGlyphs">微生物浓度模拟值</text>
<line x1="198.40" y1="376.50" x2="209.00" y2="376.50" stroke="#161616" stroke-width="1.3" stroke-dasharray="2.6 1.3"/>
<text x="215.60" y="378.30" font-size="5.0" text-anchor="start" font-family="&quot;Liberation Serif&quot;,&quot;Noto Serif CJK SC&quot;,serif" font-weight="600" fill="#161616" stroke="#161616" stroke-width="0.14" textLength="49.1" lengthAdjust="spacingAndGlyphs">有机物浓度模拟值</text>
<circle cx="203.70" cy="384.00" r="1.71" fill="none" stroke="#555" stroke-width="0.7"/>
<text x="215.60" y="385.80" font-size="5.0" text-anchor="start" font-family="&quot;Liberation Serif&quot;,&quot;Noto Serif CJK SC&quot;,serif" font-weight="600" fill="#161616" stroke="#161616" stroke-width="0.14" textLength="49.1" lengthAdjust="spacingAndGlyphs">微生物浓度实测值</text>
<path d="M202.00,391.10 L203.70,389.40 L205.40,391.10 L203.70,392.80Z" fill="#161616"/>
<text x="215.60" y="392.90" font-size="5.0" text-anchor="start" font-family="&quot;Liberation Serif&quot;,&quot;Noto Serif CJK SC&quot;,serif" font-weight="600" fill="#161616" stroke="#161616" stroke-width="0.14" textLength="49.1" lengthAdjust="spacingAndGlyphs">有机物浓度实测值</text>
<line x1="371.30" y1="362.80" x2="371.30" y2="514.20" stroke="#333" stroke-width="0.8" stroke-linecap="square"/>
<line x1="565.90" y1="362.80" x2="565.90" y2="514.20" stroke="#444" stroke-width="0.8" stroke-linecap="square"/>
<line x1="371.30" y1="362.80" x2="565.90" y2="362.80" stroke="#999" stroke-width="0.7" stroke-linecap="square"/>
<line x1="371.30" y1="514.20" x2="565.90" y2="514.20" stroke="#999" stroke-width="0.7" stroke-linecap="square"/>
<text x="369.60" y="526.00" font-size="10.5" text-anchor="middle" font-family="&quot;Liberation Serif&quot;,&quot;Noto Serif CJK SC&quot;,serif" font-weight="normal" fill="#161616" stroke="#161616" stroke-width="0.2">0</text>
<line x1="390.76" y1="514.20" x2="390.76" y2="512.20" stroke="#777" stroke-width="0.7"/>
<line x1="390.76" y1="362.80" x2="390.76" y2="364.80" stroke="#777" stroke-width="0.7"/>
<text x="389.40" y="526.00" font-size="10.5" text-anchor="middle" font-family="&quot;Liberation Serif&quot;,&quot;Noto Serif CJK SC&quot;,serif" font-weight="normal" fill="#161616" stroke="#161616" stroke-width="0.2">5</text>
<line x1="410.22" y1="514.20" x2="410.22" y2="512.20" stroke="#777" stroke-width="0.7"/>
<line x1="410.22" y1="362.80" x2="410.22" y2="364.80" stroke="#777" stroke-width="0.7"/>
<text x="409.20" y="526.00" font-size="10.5" text-anchor="middle" font-family="&quot;Liberation Serif&quot;,&quot;Noto Serif CJK SC&quot;,serif" font-weight="normal" fill="#161616" stroke="#161616" stroke-width="0.2">10</text>
<line x1="429.68" y1="514.20" x2="429.68" y2="512.20" stroke="#777" stroke-width="0.7"/>
<line x1="429.68" y1="362.80" x2="429.68" y2="364.80" stroke="#777" stroke-width="0.7"/>
<text x="429.00" y="526.00" font-size="10.5" text-anchor="middle" font-family="&quot;Liberation Serif&quot;,&quot;Noto Serif CJK SC&quot;,serif" font-weight="normal" fill="#161616" stroke="#161616" stroke-width="0.2">15</text>
<line x1="449.14" y1="514.20" x2="449.14" y2="512.20" stroke="#777" stroke-width="0.7"/>
<line x1="449.14" y1="362.80" x2="449.14" y2="364.80" stroke="#777" stroke-width="0.7"/>
<text x="448.80" y="526.00" font-size="10.5" text-anchor="middle" font-family="&quot;Liberation Serif&quot;,&quot;Noto Serif CJK SC&quot;,serif" font-weight="normal" fill="#161616" stroke="#161616" stroke-width="0.2">20</text>
<line x1="468.60" y1="514.20" x2="468.60" y2="512.20" stroke="#777" stroke-width="0.7"/>
<line x1="468.60" y1="362.80" x2="468.60" y2="364.80" stroke="#777" stroke-width="0.7"/>
<text x="468.60" y="526.00" font-size="10.5" text-anchor="middle" font-family="&quot;Liberation Serif&quot;,&quot;Noto Serif CJK SC&quot;,serif" font-weight="normal" fill="#161616" stroke="#161616" stroke-width="0.2">25</text>
<line x1="488.06" y1="514.20" x2="488.06" y2="512.20" stroke="#777" stroke-width="0.7"/>
<line x1="488.06" y1="362.80" x2="488.06" y2="364.80" stroke="#777" stroke-width="0.7"/>
<text x="488.40" y="526.00" font-size="10.5" text-anchor="middle" font-family="&quot;Liberation Serif&quot;,&quot;Noto Serif CJK SC&quot;,serif" font-weight="normal" fill="#161616" stroke="#161616" stroke-width="0.2">30</text>
<line x1="507.52" y1="514.20" x2="507.52" y2="512.20" stroke="#777" stroke-width="0.7"/>
<line x1="507.52" y1="362.80" x2="507.52" y2="364.80" stroke="#777" stroke-width="0.7"/>
<text x="508.20" y="526.00" font-size="10.5" text-anchor="middle" font-family="&quot;Liberation Serif&quot;,&quot;Noto Serif CJK SC&quot;,serif" font-weight="normal" fill="#161616" stroke="#161616" stroke-width="0.2">35</text>
<line x1="526.98" y1="514.20" x2="526.98" y2="512.20" stroke="#777" stroke-width="0.7"/>
<line x1="526.98" y1="362.80" x2="526.98" y2="364.80" stroke="#777" stroke-width="0.7"/>
<text x="528.00" y="526.00" font-size="10.5" text-anchor="middle" font-family="&quot;Liberation Serif&quot;,&quot;Noto Serif CJK SC&quot;,serif" font-weight="normal" fill="#161616" stroke="#161616" stroke-width="0.2">40</text>
<line x1="546.44" y1="514.20" x2="546.44" y2="512.20" stroke="#777" stroke-width="0.7"/>
<line x1="546.44" y1="362.80" x2="546.44" y2="364.80" stroke="#777" stroke-width="0.7"/>
<text x="547.80" y="526.00" font-size="10.5" text-anchor="middle" font-family="&quot;Liberation Serif&quot;,&quot;Noto Serif CJK SC&quot;,serif" font-weight="normal" fill="#161616" stroke="#161616" stroke-width="0.2">45</text>
<text x="567.60" y="526.00" font-size="10.5" text-anchor="middle" font-family="&quot;Liberation Serif&quot;,&quot;Noto Serif CJK SC&quot;,serif" font-weight="normal" fill="#161616" stroke="#161616" stroke-width="0.2">50</text>
<text x="355.20" y="369.90" font-size="10.5" text-anchor="start" font-family="&quot;Liberation Serif&quot;,&quot;Noto Serif CJK SC&quot;,serif" font-weight="normal" fill="#161616" stroke="#161616" stroke-width="0.2" textLength="9.5" lengthAdjust="spacingAndGlyphs">10</text>
<text x="365.10" y="365.70" font-size="5.4" text-anchor="start" font-family="&quot;Liberation Serif&quot;,&quot;Noto Serif CJK SC&quot;,serif" font-weight="normal" fill="#161616" stroke="#161616" stroke-width="0.15">3</text>
<line x1="371.30" y1="388.03" x2="373.30" y2="388.03" stroke="#777" stroke-width="0.7"/>
<line x1="565.90" y1="388.03" x2="563.90" y2="388.03" stroke="#777" stroke-width="0.7"/>
<text x="355.20" y="394.30" font-size="10.5" text-anchor="start" font-family="&quot;Liberation Serif&quot;,&quot;Noto Serif CJK SC&quot;,serif" font-weight="normal" fill="#161616" stroke="#161616" stroke-width="0.2" textLength="9.5" lengthAdjust="spacingAndGlyphs">10</text>
<text x="365.10" y="390.10" font-size="5.4" text-anchor="start" font-family="&quot;Liberation Serif&quot;,&quot;Noto Serif CJK SC&quot;,serif" font-weight="normal" fill="#161616" stroke="#161616" stroke-width="0.15">2</text>
<line x1="371.30" y1="413.27" x2="373.30" y2="413.27" stroke="#777" stroke-width="0.7"/>
<line x1="565.90" y1="413.27" x2="563.90" y2="413.27" stroke="#777" stroke-width="0.7"/>
<text x="355.20" y="418.70" font-size="10.5" text-anchor="start" font-family="&quot;Liberation Serif&quot;,&quot;Noto Serif CJK SC&quot;,serif" font-weight="normal" fill="#161616" stroke="#161616" stroke-width="0.2" textLength="9.5" lengthAdjust="spacingAndGlyphs">10</text>
<text x="365.10" y="414.50" font-size="5.4" text-anchor="start" font-family="&quot;Liberation Serif&quot;,&quot;Noto Serif CJK SC&quot;,serif" font-weight="normal" fill="#161616" stroke="#161616" stroke-width="0.15">1</text>
<line x1="371.30" y1="438.50" x2="373.30" y2="438.50" stroke="#777" stroke-width="0.7"/>
<line x1="565.90" y1="438.50" x2="563.90" y2="438.50" stroke="#777" stroke-width="0.7"/>
<text x="355.20" y="443.10" font-size="10.5" text-anchor="start" font-family="&quot;Liberation Serif&quot;,&quot;Noto Serif CJK SC&quot;,serif" font-weight="normal" fill="#161616" stroke="#161616" stroke-width="0.2" textLength="9.5" lengthAdjust="spacingAndGlyphs">10</text>
<text x="365.10" y="438.90" font-size="5.4" text-anchor="start" font-family="&quot;Liberation Serif&quot;,&quot;Noto Serif CJK SC&quot;,serif" font-weight="normal" fill="#161616" stroke="#161616" stroke-width="0.15">0</text>
<line x1="371.30" y1="463.73" x2="373.30" y2="463.73" stroke="#777" stroke-width="0.7"/>
<line x1="565.90" y1="463.73" x2="563.90" y2="463.73" stroke="#777" stroke-width="0.7"/>
<text x="355.20" y="467.50" font-size="10.5" text-anchor="start" font-family="&quot;Liberation Serif&quot;,&quot;Noto Serif CJK SC&quot;,serif" font-weight="normal" fill="#161616" stroke="#161616" stroke-width="0.2" textLength="9.5" lengthAdjust="spacingAndGlyphs">10</text>
<text x="365.10" y="463.30" font-size="5.4" text-anchor="start" font-family="&quot;Liberation Serif&quot;,&quot;Noto Serif CJK SC&quot;,serif" font-weight="normal" fill="#161616" stroke="#161616" stroke-width="0.15">-1</text>
<line x1="371.30" y1="488.97" x2="373.30" y2="488.97" stroke="#777" stroke-width="0.7"/>
<line x1="565.90" y1="488.97" x2="563.90" y2="488.97" stroke="#777" stroke-width="0.7"/>
<text x="355.20" y="491.90" font-size="10.5" text-anchor="start" font-family="&quot;Liberation Serif&quot;,&quot;Noto Serif CJK SC&quot;,serif" font-weight="normal" fill="#161616" stroke="#161616" stroke-width="0.2" textLength="9.5" lengthAdjust="spacingAndGlyphs">10</text>
<text x="365.10" y="487.70" font-size="5.4" text-anchor="start" font-family="&quot;Liberation Serif&quot;,&quot;Noto Serif CJK SC&quot;,serif" font-weight="normal" fill="#161616" stroke="#161616" stroke-width="0.15">-2</text>
<text x="355.20" y="516.30" font-size="10.5" text-anchor="start" font-family="&quot;Liberation Serif&quot;,&quot;Noto Serif CJK SC&quot;,serif" font-weight="normal" fill="#161616" stroke="#161616" stroke-width="0.2" textLength="9.5" lengthAdjust="spacingAndGlyphs">10</text>
<text x="365.10" y="512.10" font-size="5.4" text-anchor="start" font-family="&quot;Liberation Serif&quot;,&quot;Noto Serif CJK SC&quot;,serif" font-weight="normal" fill="#161616" stroke="#161616" stroke-width="0.15">-3</text>
<text x="473.80" y="536.80" font-size="10.4" text-anchor="middle" font-family="&quot;Liberation Serif&quot;,&quot;Noto Serif CJK SC&quot;,serif" font-weight="500" fill="#161616" stroke="#161616" stroke-width="0.2">时间 /h</text>
<text transform="translate(339.30,436.60) rotate(-90)" font-size="10" text-anchor="middle" font-family="&quot;Liberation Serif&quot;,&quot;Noto Serif CJK SC&quot;,serif" font-weight="500" fill="#161616" stroke="#161616" stroke-width="0.2" textLength="47.5" lengthAdjust="spacingAndGlyphs">浓度 /mg/L</text>
<clipPath id="cp4"><rect x="370.30" y="361.80" width="196.60" height="153.40"/></clipPath>
<g clip-path="url(#cp4)">
<path d="M371.10,400.40 L372.33,399.62 L373.55,398.85 L374.78,398.08 L376.00,397.32 L377.23,396.56 L378.45,395.80 L379.68,395.04 L380.90,394.29 L382.13,393.53 L383.35,392.78 L384.58,392.04 L385.80,391.32 L387.03,390.62 L388.25,389.93 L389.48,389.25 L390.70,388.59 L391.93,387.95 L393.15,387.32 L394.38,386.71 L395.60,386.11 L396.83,385.54 L398.05,384.97 L399.28,384.42 L400.50,383.88 L401.73,383.36 L402.95,382.86 L404.18,382.36 L405.40,381.85 L406.63,381.35 L407.85,380.89 L409.08,380.48 L410.31,380.15 L411.53,379.85 L412.76,379.57 L413.98,379.31 L415.21,379.08 L416.43,378.89 L417.66,378.75 L418.88,378.65 L420.11,378.56 L421.33,378.49 L422.56,378.41 L423.78,378.35 L425.01,378.29 L426.23,378.24 L427.46,378.19 L428.68,378.15 L429.91,378.11 L431.13,378.07 L432.36,378.04 L433.58,378.01 L434.81,377.97 L436.03,377.94 L437.26,377.91 L438.48,377.88 L439.71,377.85 L440.93,377.83 L442.16,377.80 L443.38,377.78 L444.61,377.75 L445.83,377.74 L447.06,377.72 L448.28,377.71 L449.51,377.70 L450.74,377.70 L451.96,377.70 L453.19,377.70 L454.41,377.71 L455.64,377.71 L456.86,377.72 L458.09,377.72 L459.31,377.73 L460.54,377.74 L461.76,377.75 L462.99,377.77 L464.21,377.78 L465.44,377.79 L466.66,377.81 L467.89,377.82 L469.11,377.84 L470.34,377.86 L471.56,377.87 L472.79,377.89 L474.01,377.91 L475.24,377.93 L476.46,377.95 L477.69,377.97 L478.91,378.00 L480.14,378.02 L481.36,378.04 L482.59,378.06 L483.81,378.08 L485.04,378.11 L486.26,378.13 L487.49,378.15 L488.72,378.18 L489.94,378.20 L491.17,378.22 L492.39,378.25 L493.62,378.28 L494.84,378.31 L496.07,378.35 L497.29,378.38 L498.52,378.42 L499.74,378.46 L500.97,378.50 L502.19,378.55 L503.42,378.59 L504.64,378.64 L505.87,378.68 L507.09,378.73 L508.32,378.78 L509.54,378.83 L510.77,378.88 L511.99,378.93 L513.22,378.98 L514.44,379.03 L515.67,379.07 L516.89,379.12 L518.12,379.17 L519.34,379.22 L520.57,379.27 L521.79,379.32 L523.02,379.36 L524.24,379.41 L525.47,379.45 L526.69,379.49 L527.92,379.53 L529.15,379.57 L530.37,379.61 L531.60,379.65 L532.82,379.69 L534.05,379.73 L535.27,379.77 L536.50,379.81 L537.72,379.85 L538.95,379.89 L540.17,379.92 L541.40,379.96 L542.62,380.00 L543.85,380.04 L545.07,380.08 L546.30,380.12 L547.52,380.15 L548.75,380.19 L549.97,380.23 L551.20,380.27 L552.42,380.30 L553.65,380.34 L554.87,380.38 L556.10,380.41 L557.32,380.45 L558.55,380.49 L559.77,380.52 L561.00,380.56 L562.22,380.59 L563.45,380.63 L564.67,380.66 L565.90,380.70" fill="none" stroke="#161616" stroke-width="1.3" stroke-linejoin="round"/>
<path d="M371.10,373.40 L372.32,373.42 L373.53,373.46 L374.75,373.53 L375.97,373.63 L377.18,373.75 L378.40,373.89 L379.62,374.05 L380.84,374.23 L382.05,374.41 L383.27,374.61 L384.49,374.81 L385.70,375.02 L386.92,375.24 L388.14,375.51 L389.35,375.84 L390.57,376.22 L391.79,376.63 L393.01,377.06 L394.22,377.50 L395.44,377.92 L396.66,378.36 L397.87,378.82 L399.09,379.29 L400.31,379.78 L401.52,380.30 L402.74,380.84 L403.96,381.41 L405.18,382.02 L406.39,382.66 L407.61,383.34 L408.83,384.04 L410.04,384.77 L411.26,385.51 L412.48,386.29 L413.69,387.09 L414.91,387.92 L416.13,388.78 L417.35,389.66 L418.56,390.58 L419.78,391.54 L421.00,392.55 L422.21,393.60 L423.43,394.65 L424.65,395.70 L425.86,396.74 L427.08,397.76 L428.30,398.78 L429.52,399.80 L430.73,400.82 L431.95,401.85 L433.17,402.87 L434.38,403.89 L435.60,404.92 L436.82,405.95 L438.03,406.98 L439.25,408.02 L440.47,409.05 L441.68,410.08 L442.90,411.12 L444.12,412.14 L445.34,413.16 L446.55,414.18 L447.77,415.18 L448.99,416.18 L450.20,417.16 L451.42,418.14 L452.64,419.12 L453.85,420.09 L455.07,421.06 L456.29,422.02 L457.51,422.99 L458.72,423.94 L459.94,424.90 L461.16,425.85 L462.37,426.80 L463.59,427.75 L464.81,428.69 L466.02,429.63 L467.24,430.57 L468.46,431.51 L469.68,432.44 L470.89,433.38 L472.11,434.30 L473.33,435.23 L474.54,436.16 L475.76,437.08 L476.98,438.00 L478.19,438.92 L479.41,439.84 L480.63,440.76 L481.85,441.67 L483.06,442.59 L484.28,443.50 L485.50,444.41 L486.71,445.32 L487.93,446.23 L489.15,447.14 L490.36,448.04 L491.58,448.95 L492.80,449.85 L494.02,450.76 L495.23,451.66 L496.45,452.57 L497.67,453.47 L498.88,454.37 L500.10,455.28 L501.32,456.18 L502.53,457.08 L503.75,457.98 L504.97,458.88 L506.18,459.78 L507.40,460.68 L508.62,461.58 L509.84,462.47 L511.05,463.37 L512.27,464.26 L513.49,465.16 L514.70,466.05 L515.92,466.94 L517.14,467.83 L518.35,468.72 L519.57,469.61 L520.79,470.49 L522.01,471.38 L523.22,472.27 L524.44,473.15 L525.66,474.03 L526.87,474.91 L528.09,475.80 L529.31,476.68 L530.52,477.55 L531.74,478.43 L532.96,479.31 L534.18,480.18 L535.39,481.06 L536.61,481.93 L537.83,482.80 L539.04,483.68 L540.26,484.55 L541.48,485.41 L542.69,486.28 L543.91,487.15 L545.13,488.01 L546.35,488.88 L547.56,489.74 L548.78,490.60 L550.00,491.46 L551.21,492.32 L552.43,493.18 L553.65,494.04 L554.86,494.90 L556.08,495.75 L557.30,496.60 L558.52,497.46 L559.73,498.31 L560.95,499.16 L562.17,500.01 L563.38,500.85 L564.60,501.70" fill="none" stroke="#161616" stroke-width="1.3" stroke-linejoin="round" stroke-dasharray="3 1.3"/>
</g>
<circle cx="371.10" cy="400.40" r="2.05" fill="none" stroke="#333" stroke-width="1.5"/>
<circle cx="379.10" cy="399.90" r="2.05" fill="none" stroke="#333" stroke-width="1.5"/>
<circle cx="386.70" cy="392.80" r="2.05" fill="none" stroke="#333" stroke-width="1.5"/>
<circle cx="394.80" cy="388.30" r="2.05" fill="none" stroke="#333" stroke-width="1.5"/>
<circle cx="410.10" cy="380.20" r="2.05" fill="none" stroke="#333" stroke-width="1.5"/>
<circle cx="418.20" cy="379.00" r="2.05" fill="none" stroke="#333" stroke-width="1.5"/>
<circle cx="433.80" cy="378.50" r="2.05" fill="none" stroke="#333" stroke-width="1.5"/>
<circle cx="449.20" cy="378.50" r="2.05" fill="none" stroke="#333" stroke-width="1.5"/>
<circle cx="465.20" cy="379.20" r="2.05" fill="none" stroke="#333" stroke-width="1.5"/>
<circle cx="480.70" cy="379.40" r="2.05" fill="none" stroke="#333" stroke-width="1.5"/>
<circle cx="496.10" cy="379.70" r="2.05" fill="none" stroke="#333" stroke-width="1.5"/>
<circle cx="511.70" cy="380.00" r="2.05" fill="none" stroke="#333" stroke-width="1.5"/>
<circle cx="527.30" cy="380.20" r="2.05" fill="none" stroke="#333" stroke-width="1.5"/>
<circle cx="565.90" cy="381.50" r="2.05" fill="none" stroke="#333" stroke-width="1.5"/>
<path d="M369.50,373.90 L371.10,372.30 L372.70,373.90 L371.10,375.50Z" fill="#161616"/>
<path d="M368.70,373.90 L373.50,373.90 M371.10,371.50 L371.10,376.30" stroke="#161616" stroke-width="0.6" fill="none"/>
<path d="M377.50,374.40 L379.10,372.80 L380.70,374.40 L379.10,376.00Z" fill="#161616"/>
<path d="M376.70,374.40 L381.50,374.40 M379.10,372.00 L379.10,376.80" stroke="#161616" stroke-width="0.6" fill="none"/>
<path d="M385.10,375.20 L386.70,373.60 L388.30,375.20 L386.70,376.80Z" fill="#161616"/>
<path d="M384.30,375.20 L389.10,375.20 M386.70,372.80 L386.70,377.60" stroke="#161616" stroke-width="0.6" fill="none"/>
<path d="M393.20,377.20 L394.80,375.60 L396.40,377.20 L394.80,378.80Z" fill="#161616"/>
<path d="M392.40,377.20 L397.20,377.20 M394.80,374.80 L394.80,379.60" stroke="#161616" stroke-width="0.6" fill="none"/>
<path d="M408.50,384.80 L410.10,383.20 L411.70,384.80 L410.10,386.40Z" fill="#161616"/>
<path d="M407.70,384.80 L412.50,384.80 M410.10,382.40 L410.10,387.20" stroke="#161616" stroke-width="0.6" fill="none"/>
<path d="M416.60,389.10 L418.20,387.50 L419.80,389.10 L418.20,390.70Z" fill="#161616"/>
<path d="M415.80,389.10 L420.60,389.10 M418.20,386.70 L418.20,391.50" stroke="#161616" stroke-width="0.6" fill="none"/>
<path d="M432.20,397.10 L433.80,395.50 L435.40,397.10 L433.80,398.70Z" fill="#161616"/>
<path d="M431.40,397.10 L436.20,397.10 M433.80,394.70 L433.80,399.50" stroke="#161616" stroke-width="0.6" fill="none"/>
<path d="M448.10,417.30 L449.70,415.70 L451.30,417.30 L449.70,418.90Z" fill="#161616"/>
<path d="M447.30,417.30 L452.10,417.30 M449.70,414.90 L449.70,419.70" stroke="#161616" stroke-width="0.6" fill="none"/>
<path d="M463.60,432.60 L465.20,431.00 L466.80,432.60 L465.20,434.20Z" fill="#161616"/>
<path d="M462.80,432.60 L467.60,432.60 M465.20,430.20 L465.20,435.00" stroke="#161616" stroke-width="0.6" fill="none"/>
<path d="M479.10,447.70 L480.70,446.10 L482.30,447.70 L480.70,449.30Z" fill="#161616"/>
<path d="M478.30,447.70 L483.10,447.70 M480.70,445.30 L480.70,450.10" stroke="#161616" stroke-width="0.6" fill="none"/>
<path d="M494.50,454.10 L496.10,452.50 L497.70,454.10 L496.10,455.70Z" fill="#161616"/>
<path d="M493.70,454.10 L498.50,454.10 M496.10,451.70 L496.10,456.50" stroke="#161616" stroke-width="0.6" fill="none"/>
<path d="M510.10,476.00 L511.70,474.40 L513.30,476.00 L511.70,477.60Z" fill="#161616"/>
<path d="M509.30,476.00 L514.10,476.00 M511.70,473.60 L511.70,478.40" stroke="#161616" stroke-width="0.6" fill="none"/>
<path d="M525.70,484.10 L527.30,482.50 L528.90,484.10 L527.30,485.70Z" fill="#161616"/>
<path d="M524.90,484.10 L529.70,484.10 M527.30,481.70 L527.30,486.50" stroke="#161616" stroke-width="0.6" fill="none"/>
<path d="M564.30,501.70 L565.90,500.10 L567.50,501.70 L565.90,503.30Z" fill="#161616"/>
<path d="M563.50,501.70 L568.30,501.70 M565.90,499.30 L565.90,504.10" stroke="#161616" stroke-width="0.6" fill="none"/>
<rect x="482.30" y="387.30" width="78.60" height="31.20" fill="#fff" stroke="#161616" stroke-width="0.8"/>
<line x1="486.30" y1="391.60" x2="496.90" y2="391.60" stroke="#161616" stroke-width="1.3"/>
<text x="501.60" y="393.40" font-size="5.0" text-anchor="start" font-family="&quot;Liberation Serif&quot;,&quot;Noto Serif CJK SC&quot;,serif" font-weight="600" fill="#161616" stroke="#161616" stroke-width="0.14" textLength="50.4" lengthAdjust="spacingAndGlyphs">微生物浓度模拟值</text>
<line x1="486.30" y1="399.10" x2="496.90" y2="399.10" stroke="#161616" stroke-width="1.3" stroke-dasharray="2.6 1.3"/>
<text x="501.60" y="400.90" font-size="5.0" text-anchor="start" font-family="&quot;Liberation Serif&quot;,&quot;Noto Serif CJK SC&quot;,serif" font-weight="600" fill="#161616" stroke="#161616" stroke-width="0.14" textLength="50.4" lengthAdjust="spacingAndGlyphs">有机物浓度模拟值</text>
<circle cx="491.60" cy="407.40" r="1.84" fill="none" stroke="#333" stroke-width="1.5"/>
<text x="501.60" y="409.20" font-size="5.0" text-anchor="start" font-family="&quot;Liberation Serif&quot;,&quot;Noto Serif CJK SC&quot;,serif" font-weight="600" fill="#161616" stroke="#161616" stroke-width="0.14" textLength="50.4" lengthAdjust="spacingAndGlyphs">微生物浓度实测值</text>
<path d="M489.90,415.00 L491.60,413.30 L493.30,415.00 L491.60,416.70Z" fill="#161616"/>
<text x="501.60" y="416.80" font-size="5.0" text-anchor="start" font-family="&quot;Liberation Serif&quot;,&quot;Noto Serif CJK SC&quot;,serif" font-weight="600" fill="#161616" stroke="#161616" stroke-width="0.14" textLength="50.4" lengthAdjust="spacingAndGlyphs">有机物浓度实测值</text>
<line x1="82.90" y1="606.80" x2="82.90" y2="756.80" stroke="#888" stroke-width="0.8" stroke-linecap="square"/>
<line x1="276.10" y1="606.80" x2="276.10" y2="756.80" stroke="#333" stroke-width="0.9" stroke-linecap="square"/>
<line x1="82.90" y1="606.80" x2="276.10" y2="606.80" stroke="#777" stroke-width="0.8" stroke-linecap="square"/>
<line x1="82.90" y1="756.80" x2="276.10" y2="756.80" stroke="#333" stroke-width="0.9" stroke-linecap="square"/>
<text x="82.20" y="766.80" font-size="11" text-anchor="middle" font-family="&quot;Liberation Serif&quot;,&quot;Noto Serif CJK SC&quot;,serif" font-weight="normal" fill="#161616" stroke="#161616" stroke-width="0.2">0</text>
<line x1="102.22" y1="756.80" x2="102.22" y2="754.80" stroke="#333" stroke-width="0.7"/>
<line x1="102.22" y1="606.80" x2="102.22" y2="608.80" stroke="#333" stroke-width="0.7"/>
<text x="102.10" y="766.80" font-size="11" text-anchor="middle" font-family="&quot;Liberation Serif&quot;,&quot;Noto Serif CJK SC&quot;,serif" font-weight="normal" fill="#161616" stroke="#161616" stroke-width="0.2">5</text>
<line x1="121.54" y1="756.80" x2="121.54" y2="754.80" stroke="#333" stroke-width="0.7"/>
<line x1="121.54" y1="606.80" x2="121.54" y2="608.80" stroke="#333" stroke-width="0.7"/>
<text x="122.00" y="766.80" font-size="11" text-anchor="middle" font-family="&quot;Liberation Serif&quot;,&quot;Noto Serif CJK SC&quot;,serif" font-weight="normal" fill="#161616" stroke="#161616" stroke-width="0.2">10</text>
<line x1="140.86" y1="756.80" x2="140.86" y2="754.80" stroke="#333" stroke-width="0.7"/>
<line x1="140.86" y1="606.80" x2="140.86" y2="608.80" stroke="#333" stroke-width="0.7"/>
<text x="141.90" y="766.80" font-size="11" text-anchor="middle" font-family="&quot;Liberation Serif&quot;,&quot;Noto Serif CJK SC&quot;,serif" font-weight="normal" fill="#161616" stroke="#161616" stroke-width="0.2">15</text>
<line x1="160.18" y1="756.80" x2="160.18" y2="754.80" stroke="#333" stroke-width="0.7"/>
<line x1="160.18" y1="606.80" x2="160.18" y2="608.80" stroke="#333" stroke-width="0.7"/>
<text x="161.80" y="766.80" font-size="11" text-anchor="middle" font-family="&quot;Liberation Serif&quot;,&quot;Noto Serif CJK SC&quot;,serif" font-weight="normal" fill="#161616" stroke="#161616" stroke-width="0.2">20</text>
<line x1="179.50" y1="756.80" x2="179.50" y2="754.80" stroke="#333" stroke-width="0.7"/>
<line x1="179.50" y1="606.80" x2="179.50" y2="608.80" stroke="#333" stroke-width="0.7"/>
<text x="181.70" y="766.80" font-size="11" text-anchor="middle" font-family="&quot;Liberation Serif&quot;,&quot;Noto Serif CJK SC&quot;,serif" font-weight="normal" fill="#161616" stroke="#161616" stroke-width="0.2">25</text>
<line x1="198.82" y1="756.80" x2="198.82" y2="754.80" stroke="#333" stroke-width="0.7"/>
<line x1="198.82" y1="606.80" x2="198.82" y2="608.80" stroke="#333" stroke-width="0.7"/>
<text x="201.60" y="766.80" font-size="11" text-anchor="middle" font-family="&quot;Liberation Serif&quot;,&quot;Noto Serif CJK SC&quot;,serif" font-weight="normal" fill="#161616" stroke="#161616" stroke-width="0.2">30</text>
<line x1="218.14" y1="756.80" x2="218.14" y2="754.80" stroke="#333" stroke-width="0.7"/>
<line x1="218.14" y1="606.80" x2="218.14" y2="608.80" stroke="#333" stroke-width="0.7"/>
<text x="221.50" y="766.80" font-size="11" text-anchor="middle" font-family="&quot;Liberation Serif&quot;,&quot;Noto Serif CJK SC&quot;,serif" font-weight="normal" fill="#161616" stroke="#161616" stroke-width="0.2">35</text>
<line x1="237.46" y1="756.80" x2="237.46" y2="754.80" stroke="#333" stroke-width="0.7"/>
<line x1="237.46" y1="606.80" x2="237.46" y2="608.80" stroke="#333" stroke-width="0.7"/>
<text x="241.40" y="766.80" font-size="11" text-anchor="middle" font-family="&quot;Liberation Serif&quot;,&quot;Noto Serif CJK SC&quot;,serif" font-weight="normal" fill="#161616" stroke="#161616" stroke-width="0.2">40</text>
<line x1="256.78" y1="756.80" x2="256.78" y2="754.80" stroke="#333" stroke-width="0.7"/>
<line x1="256.78" y1="606.80" x2="256.78" y2="608.80" stroke="#333" stroke-width="0.7"/>
<text x="261.30" y="766.80" font-size="11" text-anchor="middle" font-family="&quot;Liberation Serif&quot;,&quot;Noto Serif CJK SC&quot;,serif" font-weight="normal" fill="#161616" stroke="#161616" stroke-width="0.2">45</text>
<text x="281.20" y="766.80" font-size="11" text-anchor="middle" font-family="&quot;Liberation Serif&quot;,&quot;Noto Serif CJK SC&quot;,serif" font-weight="normal" fill="#161616" stroke="#161616" stroke-width="0.2">50</text>
<text x="78.70" y="611.23" font-size="11" text-anchor="end" font-family="&quot;Liberation Serif&quot;,&quot;Noto Serif CJK SC&quot;,serif" font-weight="normal" fill="#161616" stroke="#161616" stroke-width="0.2">350</text>
<line x1="82.90" y1="631.80" x2="84.90" y2="631.80" stroke="#333" stroke-width="0.7"/>
<line x1="276.10" y1="631.80" x2="274.10" y2="631.80" stroke="#333" stroke-width="0.7"/>
<text x="78.70" y="635.73" font-size="11" text-anchor="end" font-family="&quot;Liberation Serif&quot;,&quot;Noto Serif CJK SC&quot;,serif" font-weight="normal" fill="#161616" stroke="#161616" stroke-width="0.2">300</text>
<line x1="82.90" y1="656.80" x2="84.90" y2="656.80" stroke="#333" stroke-width="0.7"/>
<line x1="276.10" y1="656.80" x2="274.10" y2="656.80" stroke="#333" stroke-width="0.7"/>
<text x="78.70" y="660.23" font-size="11" text-anchor="end" font-family="&quot;Liberation Serif&quot;,&quot;Noto Serif CJK SC&quot;,serif" font-weight="normal" fill="#161616" stroke="#161616" stroke-width="0.2">250</text>
<line x1="82.90" y1="681.80" x2="84.90" y2="681.80" stroke="#333" stroke-width="0.7"/>
<line x1="276.10" y1="681.80" x2="274.10" y2="681.80" stroke="#333" stroke-width="0.7"/>
<text x="78.70" y="684.73" font-size="11" text-anchor="end" font-family="&quot;Liberation Serif&quot;,&quot;Noto Serif CJK SC&quot;,serif" font-weight="normal" fill="#161616" stroke="#161616" stroke-width="0.2">150</text>
<line x1="82.90" y1="706.80" x2="84.90" y2="706.80" stroke="#333" stroke-width="0.7"/>
<line x1="276.10" y1="706.80" x2="274.10" y2="706.80" stroke="#333" stroke-width="0.7"/>
<text x="78.70" y="709.23" font-size="11" text-anchor="end" font-family="&quot;Liberation Serif&quot;,&quot;Noto Serif CJK SC&quot;,serif" font-weight="normal" fill="#161616" stroke="#161616" stroke-width="0.2">100</text>
<line x1="82.90" y1="731.80" x2="84.90" y2="731.80" stroke="#333" stroke-width="0.7"/>
<line x1="276.10" y1="731.80" x2="274.10" y2="731.80" stroke="#333" stroke-width="0.7"/>
<text x="78.70" y="733.73" font-size="11" text-anchor="end" font-family="&quot;Liberation Serif&quot;,&quot;Noto Serif CJK SC&quot;,serif" font-weight="normal" fill="#161616" stroke="#161616" stroke-width="0.2">50</text>
<text x="78.70" y="758.23" font-size="11" text-anchor="end" font-family="&quot;Liberation Serif&quot;,&quot;Noto Serif CJK SC&quot;,serif" font-weight="normal" fill="#161616" stroke="#161616" stroke-width="0.2">0</text>
<text x="185.20" y="778.40" font-size="10.4" text-anchor="middle" font-family="&quot;Liberation Serif&quot;,&quot;Noto Serif CJK SC&quot;,serif" font-weight="500" fill="#161616" stroke="#161616" stroke-width="0.2">时间 /h</text>
<text transform="translate(51.50,677.80) rotate(-90)" font-size="9.7" text-anchor="middle" font-family="&quot;Liberation Serif&quot;,&quot;Noto Serif CJK SC&quot;,serif" font-weight="500" fill="#161616" stroke="#161616" stroke-width="0.2" textLength="47.5" lengthAdjust="spacingAndGlyphs">浓度 /mg/L</text>
<clipPath id="cp5"><rect x="81.90" y="605.80" width="195.20" height="152.00"/></clipPath>
<g clip-path="url(#cp5)">
<path d="M82.70,743.50 L83.92,742.31 L85.13,741.07 L86.35,739.78 L87.57,738.44 L88.78,737.06 L90.00,735.64 L91.21,734.17 L92.43,732.65 L93.65,731.08 L94.86,729.45 L96.08,727.77 L97.30,726.03 L98.51,724.24 L99.73,722.38 L100.95,720.46 L102.16,718.47 L103.38,716.42 L104.59,714.32 L105.81,712.16 L107.03,709.87 L108.24,707.49 L109.46,705.10 L110.68,702.78 L111.89,700.51 L113.11,698.27 L114.33,696.04 L115.54,693.81 L116.76,691.59 L117.97,689.36 L119.19,687.08 L120.41,684.75 L121.62,682.42 L122.84,680.14 L124.06,677.97 L125.27,675.95 L126.49,674.09 L127.71,672.27 L128.92,670.53 L130.14,668.89 L131.35,667.38 L132.57,666.03 L133.79,664.85 L135.00,663.74 L136.22,662.71 L137.44,661.77 L138.65,660.92 L139.87,660.19 L141.08,659.56 L142.30,658.99 L143.52,658.46 L144.73,657.99 L145.95,657.58 L147.17,657.23 L148.38,656.96 L149.60,656.74 L150.82,656.54 L152.03,656.36 L153.25,656.21 L154.46,656.09 L155.68,656.00 L156.90,655.93 L158.11,655.86 L159.33,655.80 L160.55,655.75 L161.76,655.72 L162.98,655.70 L164.20,655.71 L165.41,655.75 L166.63,655.82 L167.84,655.92 L169.06,656.03 L170.28,656.16 L171.49,656.29 L172.71,656.42 L173.93,656.56 L175.14,656.71 L176.36,656.89 L177.58,657.09 L178.79,657.30 L180.01,657.52 L181.22,657.76 L182.44,658.00 L183.66,658.24 L184.87,658.48 L186.09,658.72 L187.31,658.96 L188.52,659.21 L189.74,659.47 L190.96,659.74 L192.17,660.01 L193.39,660.28 L194.60,660.56 L195.82,660.84 L197.04,661.11 L198.25,661.38 L199.47,661.65 L200.69,661.91 L201.90,662.17 L203.12,662.42 L204.34,662.67 L205.55,662.92 L206.77,663.17 L207.98,663.42 L209.20,663.66 L210.42,663.90 L211.63,664.15 L212.85,664.39 L214.07,664.63 L215.28,664.87 L216.50,665.11 L217.72,665.35 L218.93,665.59 L220.15,665.83 L221.36,666.07 L222.58,666.31 L223.80,666.55 L225.01,666.79 L226.23,667.03 L227.45,667.27 L228.66,667.51 L229.88,667.75 L231.09,667.99 L232.31,668.22 L233.53,668.46 L234.74,668.69 L235.96,668.92 L237.18,669.14 L238.39,669.37 L239.61,669.59 L240.83,669.80 L242.04,670.02 L243.26,670.22 L244.47,670.43 L245.69,670.63 L246.91,670.82 L248.12,671.02 L249.34,671.21 L250.56,671.40 L251.77,671.60 L252.99,671.79 L254.21,671.98 L255.42,672.18 L256.64,672.38 L257.85,672.58 L259.07,672.78 L260.29,672.99 L261.50,673.21 L262.72,673.43 L263.94,673.65 L265.15,673.87 L266.37,674.10 L267.59,674.33 L268.80,674.56 L270.02,674.79 L271.23,675.03 L272.45,675.27 L273.67,675.51 L274.88,675.75 L276.10,676.00" fill="none" stroke="#161616" stroke-width="1.3" stroke-linejoin="round"/>
<path d="M82.70,606.80 L83.92,608.60 L85.13,610.48 L86.35,612.44 L87.57,614.47 L88.78,616.57 L90.00,618.73 L91.21,620.97 L92.43,623.31 L93.65,625.76 L94.86,628.38 L96.08,631.21 L97.30,634.18 L98.51,637.21 L99.73,640.22 L100.95,643.12 L102.16,645.92 L103.38,648.71 L104.59,651.60 L105.81,654.72 L107.03,658.20 L108.24,662.11 L109.46,666.20 L110.68,670.23 L111.89,673.96 L113.11,677.39 L114.33,680.67 L115.54,683.90 L116.76,687.22 L117.97,690.72 L119.19,694.59 L120.41,698.62 L121.62,702.38 L122.84,705.77 L124.06,709.03 L125.27,712.15 L126.49,715.14 L127.71,717.99 L128.92,720.69 L130.14,723.27 L131.35,725.78 L132.57,728.19 L133.79,730.48 L135.00,732.61 L136.22,734.55 L137.44,736.29 L138.65,737.92 L139.87,739.46 L141.08,740.91 L142.30,742.26 L143.52,743.51 L144.73,744.66 L145.95,745.71 L147.17,746.68 L148.38,747.58 L149.60,748.42 L150.82,749.19 L152.03,749.89 L153.25,750.52 L154.46,751.11 L155.68,751.68 L156.90,752.20 L158.11,752.67 L159.33,753.09 L160.55,753.44 L161.76,753.73 L162.98,754.02 L164.20,754.30 L165.41,754.57 L166.63,754.83 L167.84,755.06 L169.06,755.28 L170.28,755.47 L171.49,755.64 L172.71,755.78 L173.93,755.89 L175.14,755.97 L176.36,756.01 L177.58,756.05 L178.79,756.08 L180.01,756.11 L181.22,756.14 L182.44,756.17 L183.66,756.20 L184.87,756.22 L186.09,756.25 L187.31,756.27 L188.52,756.29 L189.74,756.31 L190.96,756.33 L192.17,756.35 L193.39,756.37 L194.60,756.39 L195.82,756.40 L197.04,756.42 L198.25,756.43 L199.47,756.45 L200.69,756.46 L201.90,756.47 L203.12,756.48 L204.34,756.49 L205.55,756.50 L206.77,756.51 L207.98,756.52 L209.20,756.53 L210.42,756.54 L211.63,756.55 L212.85,756.56 L214.07,756.56 L215.28,756.57 L216.50,756.58 L217.72,756.59 L218.93,756.59 L220.15,756.60 L221.36,756.61 L222.58,756.61 L223.80,756.62 L225.01,756.63 L226.23,756.64 L227.45,756.64 L228.66,756.65 L229.88,756.66 L231.09,756.66 L232.31,756.67 L233.53,756.67 L234.74,756.68 L235.96,756.69 L237.18,756.69 L238.39,756.70 L239.61,756.70 L240.83,756.71 L242.04,756.72 L243.26,756.72 L244.47,756.73 L245.69,756.73 L246.91,756.74 L248.12,756.74 L249.34,756.75 L250.56,756.75 L251.77,756.75 L252.99,756.76 L254.21,756.76 L255.42,756.77 L256.64,756.77 L257.85,756.77 L259.07,756.78 L260.29,756.78 L261.50,756.78 L262.72,756.79 L263.94,756.79 L265.15,756.79 L266.37,756.79 L267.59,756.79 L268.80,756.80 L270.02,756.80 L271.23,756.80 L272.45,756.80 L273.67,756.80 L274.88,756.80 L276.10,756.80" fill="none" stroke="#161616" stroke-width="1.3" stroke-linejoin="round" stroke-dasharray="3 1.3"/>
</g>
<circle cx="82.70" cy="743.50" r="1.9" fill="none" stroke="#555" stroke-width="0.7"/>
<circle cx="90.20" cy="741.90" r="1.9" fill="none" stroke="#555" stroke-width="0.7"/>
<circle cx="98.30" cy="729.80" r="1.9" fill="none" stroke="#555" stroke-width="0.7"/>
<circle cx="106.10" cy="715.20" r="1.9" fill="none" stroke="#555" stroke-width="0.7"/>
<circle cx="121.20" cy="675.10" r="1.9" fill="none" stroke="#555" stroke-width="0.7"/>
<circle cx="129.30" cy="663.00" r="1.9" fill="none" stroke="#555" stroke-width="0.7"/>
<circle cx="144.90" cy="660.00" r="1.9" fill="none" stroke="#555" stroke-width="0.7"/>
<circle cx="160.30" cy="660.50" r="1.9" fill="none" stroke="#555" stroke-width="0.7"/>
<circle cx="175.90" cy="661.30" r="1.9" fill="none" stroke="#555" stroke-width="0.7"/>
<circle cx="191.30" cy="663.00" r="1.9" fill="none" stroke="#555" stroke-width="0.7"/>
<circle cx="206.90" cy="665.80" r="1.9" fill="none" stroke="#555" stroke-width="0.7"/>
<circle cx="222.40" cy="669.80" r="1.9" fill="none" stroke="#555" stroke-width="0.7"/>
<circle cx="237.80" cy="675.10" r="1.9" fill="none" stroke="#555" stroke-width="0.7"/>
<circle cx="276.10" cy="682.40" r="1.9" fill="none" stroke="#555" stroke-width="0.7"/>
<path d="M80.60,606.80 L82.70,604.70 L84.80,606.80 L82.70,608.90Z" fill="#161616"/>
<path d="M88.60,612.60 L90.70,610.50 L92.80,612.60 L90.70,614.70Z" fill="#161616"/>
<path d="M96.20,621.00 L98.30,618.90 L100.40,621.00 L98.30,623.10Z" fill="#161616"/>
<path d="M104.00,651.70 L106.10,649.60 L108.20,651.70 L106.10,653.80Z" fill="#161616"/>
<path d="M119.10,703.50 L121.20,701.40 L123.30,703.50 L121.20,705.60Z" fill="#161616"/>
<path d="M127.20,721.50 L129.30,719.40 L131.40,721.50 L129.30,723.60Z" fill="#161616"/>
<path d="M142.80,738.40 L144.90,736.30 L147.00,738.40 L144.90,740.50Z" fill="#161616"/>
<path d="M158.70,753.50 L160.80,751.40 L162.90,753.50 L160.80,755.60Z" fill="#161616"/>
<path d="M173.80,756.00 L175.90,753.90 L178.00,756.00 L175.90,758.10Z" fill="#161616"/>
<path d="M189.40,756.60 L191.50,754.50 L193.60,756.60 L191.50,758.70Z" fill="#161616"/>
<path d="M204.80,756.60 L206.90,754.50 L209.00,756.60 L206.90,758.70Z" fill="#161616"/>
<path d="M220.30,756.70 L222.40,754.60 L224.50,756.70 L222.40,758.80Z" fill="#161616"/>
<path d="M235.70,756.70 L237.80,754.60 L239.90,756.70 L237.80,758.80Z" fill="#161616"/>
<path d="M274.00,756.80 L276.10,754.70 L278.20,756.80 L276.10,758.90Z" fill="#161616"/>
<rect x="194.90" y="609.40" width="76.10" height="31.00" fill="#fff" stroke="#161616" stroke-width="0.8"/>
<line x1="198.40" y1="613.90" x2="209.00" y2="613.90" stroke="#161616" stroke-width="1.3"/>
<text x="215.60" y="615.70" font-size="5.0" text-anchor="start" font-family="&quot;Liberation Serif&quot;,&quot;Noto Serif CJK SC&quot;,serif" font-weight="600" fill="#161616" stroke="#161616" stroke-width="0.14" textLength="48.4" lengthAdjust="spacingAndGlyphs">微生物浓度模拟值</text>
<line x1="198.40" y1="621.00" x2="209.00" y2="621.00" stroke="#161616" stroke-width="1.3" stroke-dasharray="2.6 1.3"/>
<text x="215.60" y="622.80" font-size="5.0" text-anchor="start" font-family="&quot;Liberation Serif&quot;,&quot;Noto Serif CJK SC&quot;,serif" font-weight="600" fill="#161616" stroke="#161616" stroke-width="0.14" textLength="48.4" lengthAdjust="spacingAndGlyphs">有机物浓度模拟值</text>
<circle cx="203.70" cy="628.50" r="1.71" fill="none" stroke="#555" stroke-width="0.7"/>
<text x="215.60" y="630.30" font-size="5.0" text-anchor="start" font-family="&quot;Liberation Serif&quot;,&quot;Noto Serif CJK SC&quot;,serif" font-weight="600" fill="#161616" stroke="#161616" stroke-width="0.14" textLength="48.4" lengthAdjust="spacingAndGlyphs">微生物浓度实测值</text>
<path d="M202.00,636.10 L203.70,634.40 L205.40,636.10 L203.70,637.80Z" fill="#161616"/>
<text x="215.60" y="637.90" font-size="5.0" text-anchor="start" font-family="&quot;Liberation Serif&quot;,&quot;Noto Serif CJK SC&quot;,serif" font-weight="600" fill="#161616" stroke="#161616" stroke-width="0.14" textLength="48.4" lengthAdjust="spacingAndGlyphs">有机物浓度实测值</text>
<line x1="370.30" y1="605.80" x2="370.30" y2="758.50" stroke="#333" stroke-width="0.8" stroke-linecap="square"/>
<line x1="568.70" y1="605.80" x2="568.70" y2="758.50" stroke="#444" stroke-width="0.8" stroke-linecap="square"/>
<line x1="370.30" y1="605.80" x2="568.70" y2="605.80" stroke="#999" stroke-width="0.7" stroke-linecap="square"/>
<line x1="370.30" y1="758.50" x2="568.70" y2="758.50" stroke="#999" stroke-width="0.7" stroke-linecap="square"/>
<text x="369.00" y="769.80" font-size="10.5" text-anchor="middle" font-family="&quot;Liberation Serif&quot;,&quot;Noto Serif CJK SC&quot;,serif" font-weight="normal" fill="#161616" stroke="#161616" stroke-width="0.2">0</text>
<line x1="390.14" y1="758.50" x2="390.14" y2="756.50" stroke="#777" stroke-width="0.7"/>
<line x1="390.14" y1="605.80" x2="390.14" y2="607.80" stroke="#777" stroke-width="0.7"/>
<text x="388.82" y="769.80" font-size="10.5" text-anchor="middle" font-family="&quot;Liberation Serif&quot;,&quot;Noto Serif CJK SC&quot;,serif" font-weight="normal" fill="#161616" stroke="#161616" stroke-width="0.2">5</text>
<line x1="409.98" y1="758.50" x2="409.98" y2="756.50" stroke="#777" stroke-width="0.7"/>
<line x1="409.98" y1="605.80" x2="409.98" y2="607.80" stroke="#777" stroke-width="0.7"/>
<text x="408.64" y="769.80" font-size="10.5" text-anchor="middle" font-family="&quot;Liberation Serif&quot;,&quot;Noto Serif CJK SC&quot;,serif" font-weight="normal" fill="#161616" stroke="#161616" stroke-width="0.2">10</text>
<line x1="429.82" y1="758.50" x2="429.82" y2="756.50" stroke="#777" stroke-width="0.7"/>
<line x1="429.82" y1="605.80" x2="429.82" y2="607.80" stroke="#777" stroke-width="0.7"/>
<text x="428.46" y="769.80" font-size="10.5" text-anchor="middle" font-family="&quot;Liberation Serif&quot;,&quot;Noto Serif CJK SC&quot;,serif" font-weight="normal" fill="#161616" stroke="#161616" stroke-width="0.2">15</text>
<line x1="449.66" y1="758.50" x2="449.66" y2="756.50" stroke="#777" stroke-width="0.7"/>
<line x1="449.66" y1="605.80" x2="449.66" y2="607.80" stroke="#777" stroke-width="0.7"/>
<text x="448.28" y="769.80" font-size="10.5" text-anchor="middle" font-family="&quot;Liberation Serif&quot;,&quot;Noto Serif CJK SC&quot;,serif" font-weight="normal" fill="#161616" stroke="#161616" stroke-width="0.2">20</text>
<line x1="469.50" y1="758.50" x2="469.50" y2="756.50" stroke="#777" stroke-width="0.7"/>
<line x1="469.50" y1="605.80" x2="469.50" y2="607.80" stroke="#777" stroke-width="0.7"/>
<text x="468.10" y="769.80" font-size="10.5" text-anchor="middle" font-family="&quot;Liberation Serif&quot;,&quot;Noto Serif CJK SC&quot;,serif" font-weight="normal" fill="#161616" stroke="#161616" stroke-width="0.2">25</text>
<line x1="489.34" y1="758.50" x2="489.34" y2="756.50" stroke="#777" stroke-width="0.7"/>
<line x1="489.34" y1="605.80" x2="489.34" y2="607.80" stroke="#777" stroke-width="0.7"/>
<text x="487.92" y="769.80" font-size="10.5" text-anchor="middle" font-family="&quot;Liberation Serif&quot;,&quot;Noto Serif CJK SC&quot;,serif" font-weight="normal" fill="#161616" stroke="#161616" stroke-width="0.2">30</text>
<line x1="509.18" y1="758.50" x2="509.18" y2="756.50" stroke="#777" stroke-width="0.7"/>
<line x1="509.18" y1="605.80" x2="509.18" y2="607.80" stroke="#777" stroke-width="0.7"/>
<text x="507.74" y="769.80" font-size="10.5" text-anchor="middle" font-family="&quot;Liberation Serif&quot;,&quot;Noto Serif CJK SC&quot;,serif" font-weight="normal" fill="#161616" stroke="#161616" stroke-width="0.2">35</text>
<line x1="529.02" y1="758.50" x2="529.02" y2="756.50" stroke="#777" stroke-width="0.7"/>
<line x1="529.02" y1="605.80" x2="529.02" y2="607.80" stroke="#777" stroke-width="0.7"/>
<text x="527.56" y="769.80" font-size="10.5" text-anchor="middle" font-family="&quot;Liberation Serif&quot;,&quot;Noto Serif CJK SC&quot;,serif" font-weight="normal" fill="#161616" stroke="#161616" stroke-width="0.2">40</text>
<line x1="548.86" y1="758.50" x2="548.86" y2="756.50" stroke="#777" stroke-width="0.7"/>
<line x1="548.86" y1="605.80" x2="548.86" y2="607.80" stroke="#777" stroke-width="0.7"/>
<text x="547.38" y="769.80" font-size="10.5" text-anchor="middle" font-family="&quot;Liberation Serif&quot;,&quot;Noto Serif CJK SC&quot;,serif" font-weight="normal" fill="#161616" stroke="#161616" stroke-width="0.2">45</text>
<text x="567.20" y="769.80" font-size="10.5" text-anchor="middle" font-family="&quot;Liberation Serif&quot;,&quot;Noto Serif CJK SC&quot;,serif" font-weight="normal" fill="#161616" stroke="#161616" stroke-width="0.2">50</text>
<text x="354.40" y="614.20" font-size="10.5" text-anchor="start" font-family="&quot;Liberation Serif&quot;,&quot;Noto Serif CJK SC&quot;,serif" font-weight="normal" fill="#161616" stroke="#161616" stroke-width="0.2" textLength="9.5" lengthAdjust="spacingAndGlyphs">10</text>
<text x="364.30" y="610.00" font-size="5.4" text-anchor="start" font-family="&quot;Liberation Serif&quot;,&quot;Noto Serif CJK SC&quot;,serif" font-weight="normal" fill="#161616" stroke="#161616" stroke-width="0.15">3</text>
<line x1="370.30" y1="631.25" x2="372.30" y2="631.25" stroke="#777" stroke-width="0.7"/>
<line x1="568.70" y1="631.25" x2="566.70" y2="631.25" stroke="#777" stroke-width="0.7"/>
<text x="354.40" y="638.60" font-size="10.5" text-anchor="start" font-family="&quot;Liberation Serif&quot;,&quot;Noto Serif CJK SC&quot;,serif" font-weight="normal" fill="#161616" stroke="#161616" stroke-width="0.2" textLength="9.5" lengthAdjust="spacingAndGlyphs">10</text>
<text x="364.30" y="634.40" font-size="5.4" text-anchor="start" font-family="&quot;Liberation Serif&quot;,&quot;Noto Serif CJK SC&quot;,serif" font-weight="normal" fill="#161616" stroke="#161616" stroke-width="0.15">2</text>
<line x1="370.30" y1="656.70" x2="372.30" y2="656.70" stroke="#777" stroke-width="0.7"/>
<line x1="568.70" y1="656.70" x2="566.70" y2="656.70" stroke="#777" stroke-width="0.7"/>
<text x="354.40" y="663.00" font-size="10.5" text-anchor="start" font-family="&quot;Liberation Serif&quot;,&quot;Noto Serif CJK SC&quot;,serif" font-weight="normal" fill="#161616" stroke="#161616" stroke-width="0.2" textLength="9.5" lengthAdjust="spacingAndGlyphs">10</text>
<text x="364.30" y="658.80" font-size="5.4" text-anchor="start" font-family="&quot;Liberation Serif&quot;,&quot;Noto Serif CJK SC&quot;,serif" font-weight="normal" fill="#161616" stroke="#161616" stroke-width="0.15">1</text>
<line x1="370.30" y1="682.15" x2="372.30" y2="682.15" stroke="#777" stroke-width="0.7"/>
<line x1="568.70" y1="682.15" x2="566.70" y2="682.15" stroke="#777" stroke-width="0.7"/>
<text x="354.40" y="687.40" font-size="10.5" text-anchor="start" font-family="&quot;Liberation Serif&quot;,&quot;Noto Serif CJK SC&quot;,serif" font-weight="normal" fill="#161616" stroke="#161616" stroke-width="0.2" textLength="9.5" lengthAdjust="spacingAndGlyphs">10</text>
<text x="364.30" y="683.20" font-size="5.4" text-anchor="start" font-family="&quot;Liberation Serif&quot;,&quot;Noto Serif CJK SC&quot;,serif" font-weight="normal" fill="#161616" stroke="#161616" stroke-width="0.15">0</text>
<line x1="370.30" y1="707.60" x2="372.30" y2="707.60" stroke="#777" stroke-width="0.7"/>
<line x1="568.70" y1="707.60" x2="566.70" y2="707.60" stroke="#777" stroke-width="0.7"/>
<text x="354.40" y="711.80" font-size="10.5" text-anchor="start" font-family="&quot;Liberation Serif&quot;,&quot;Noto Serif CJK SC&quot;,serif" font-weight="normal" fill="#161616" stroke="#161616" stroke-width="0.2" textLength="9.5" lengthAdjust="spacingAndGlyphs">10</text>
<text x="364.30" y="707.60" font-size="5.4" text-anchor="start" font-family="&quot;Liberation Serif&quot;,&quot;Noto Serif CJK SC&quot;,serif" font-weight="normal" fill="#161616" stroke="#161616" stroke-width="0.15">-1</text>
<line x1="370.30" y1="733.05" x2="372.30" y2="733.05" stroke="#777" stroke-width="0.7"/>
<line x1="568.70" y1="733.05" x2="566.70" y2="733.05" stroke="#777" stroke-width="0.7"/>
<text x="354.40" y="736.20" font-size="10.5" text-anchor="start" font-family="&quot;Liberation Serif&quot;,&quot;Noto Serif CJK SC&quot;,serif" font-weight="normal" fill="#161616" stroke="#161616" stroke-width="0.2" textLength="9.5" lengthAdjust="spacingAndGlyphs">10</text>
<text x="364.30" y="732.00" font-size="5.4" text-anchor="start" font-family="&quot;Liberation Serif&quot;,&quot;Noto Serif CJK SC&quot;,serif" font-weight="normal" fill="#161616" stroke="#161616" stroke-width="0.15">-2</text>
<text x="354.40" y="760.60" font-size="10.5" text-anchor="start" font-family="&quot;Liberation Serif&quot;,&quot;Noto Serif CJK SC&quot;,serif" font-weight="normal" fill="#161616" stroke="#161616" stroke-width="0.2" textLength="9.5" lengthAdjust="spacingAndGlyphs">10</text>
<text x="364.30" y="756.40" font-size="5.4" text-anchor="start" font-family="&quot;Liberation Serif&quot;,&quot;Noto Serif CJK SC&quot;,serif" font-weight="normal" fill="#161616" stroke="#161616" stroke-width="0.15">-3</text>
<text x="473.80" y="780.00" font-size="10.4" text-anchor="middle" font-family="&quot;Liberation Serif&quot;,&quot;Noto Serif CJK SC&quot;,serif" font-weight="500" fill="#161616" stroke="#161616" stroke-width="0.2">时间 /h</text>
<text transform="translate(338.00,681.00) rotate(-90)" font-size="10" text-anchor="middle" font-family="&quot;Liberation Serif&quot;,&quot;Noto Serif CJK SC&quot;,serif" font-weight="500" fill="#161616" stroke="#161616" stroke-width="0.2" textLength="47.5" lengthAdjust="spacingAndGlyphs">浓度 /mg/L</text>
<clipPath id="cp6"><rect x="369.30" y="604.80" width="200.40" height="154.70"/></clipPath>
<g clip-path="url(#cp6)">
<path d="M370.30,642.90 L371.55,642.19 L372.80,641.49 L374.05,640.78 L375.30,640.07 L376.55,639.36 L377.79,638.65 L379.04,637.93 L380.29,637.21 L381.54,636.47 L382.79,635.75 L384.04,635.03 L385.29,634.33 L386.54,633.66 L387.79,633.00 L389.04,632.36 L390.28,631.72 L391.53,631.10 L392.78,630.49 L394.03,629.88 L395.28,629.28 L396.53,628.67 L397.78,628.07 L399.03,627.48 L400.28,626.91 L401.53,626.36 L402.78,625.83 L404.02,625.32 L405.27,624.81 L406.52,624.31 L407.77,623.86 L409.02,623.47 L410.27,623.16 L411.52,622.91 L412.77,622.69 L414.02,622.49 L415.27,622.31 L416.52,622.16 L417.76,622.04 L419.01,621.94 L420.26,621.84 L421.51,621.74 L422.76,621.65 L424.01,621.57 L425.26,621.49 L426.51,621.42 L427.76,621.35 L429.01,621.30 L430.25,621.26 L431.50,621.22 L432.75,621.21 L434.00,621.20 L435.25,621.20 L436.50,621.20 L437.75,621.20 L439.00,621.20 L440.25,621.20 L441.50,621.20 L442.75,621.20 L443.99,621.20 L445.24,621.20 L446.49,621.20 L447.74,621.20 L448.99,621.20 L450.24,621.20 L451.49,621.20 L452.74,621.20 L453.99,621.21 L455.24,621.22 L456.48,621.24 L457.73,621.25 L458.98,621.27 L460.23,621.29 L461.48,621.32 L462.73,621.35 L463.98,621.38 L465.23,621.41 L466.48,621.44 L467.73,621.48 L468.98,621.51 L470.22,621.55 L471.47,621.59 L472.72,621.63 L473.97,621.67 L475.22,621.71 L476.47,621.76 L477.72,621.80 L478.97,621.84 L480.22,621.88 L481.47,621.93 L482.72,621.97 L483.96,622.01 L485.21,622.05 L486.46,622.09 L487.71,622.13 L488.96,622.17 L490.21,622.21 L491.46,622.24 L492.71,622.28 L493.96,622.32 L495.21,622.36 L496.45,622.40 L497.70,622.44 L498.95,622.48 L500.20,622.52 L501.45,622.56 L502.70,622.60 L503.95,622.65 L505.20,622.69 L506.45,622.73 L507.70,622.77 L508.95,622.82 L510.19,622.86 L511.44,622.90 L512.69,622.95 L513.94,622.99 L515.19,623.04 L516.44,623.08 L517.69,623.12 L518.94,623.17 L520.19,623.21 L521.44,623.25 L522.68,623.29 L523.93,623.34 L525.18,623.38 L526.43,623.42 L527.68,623.46 L528.93,623.50 L530.18,623.54 L531.43,623.58 L532.68,623.62 L533.93,623.65 L535.18,623.69 L536.42,623.73 L537.67,623.77 L538.92,623.81 L540.17,623.85 L541.42,623.89 L542.67,623.93 L543.92,623.96 L545.17,624.00 L546.42,624.04 L547.67,624.08 L548.92,624.11 L550.16,624.15 L551.41,624.19 L552.66,624.23 L553.91,624.26 L555.16,624.30 L556.41,624.34 L557.66,624.37 L558.91,624.41 L560.16,624.45 L561.41,624.48 L562.65,624.52 L563.90,624.56 L565.15,624.59 L566.40,624.63 L567.65,624.66 L568.90,624.70" fill="none" stroke="#161616" stroke-width="1.3" stroke-linejoin="round"/>
<path d="M370.30,616.40 L371.54,616.45 L372.78,616.53 L374.02,616.63 L375.25,616.75 L376.49,616.90 L377.73,617.05 L378.97,617.23 L380.21,617.42 L381.45,617.62 L382.68,617.83 L383.92,618.04 L385.16,618.27 L386.40,618.50 L387.64,618.77 L388.88,619.08 L390.11,619.43 L391.35,619.80 L392.59,620.19 L393.83,620.58 L395.07,620.98 L396.31,621.39 L397.54,621.81 L398.78,622.26 L400.02,622.72 L401.26,623.22 L402.50,623.74 L403.74,624.29 L404.97,624.91 L406.21,625.57 L407.45,626.27 L408.69,626.98 L409.93,627.70 L411.17,628.41 L412.40,629.13 L413.64,629.86 L414.88,630.61 L416.12,631.39 L417.36,632.21 L418.60,633.09 L419.83,634.04 L421.07,635.07 L422.31,636.13 L423.55,637.23 L424.79,638.31 L426.03,639.38 L427.26,640.44 L428.50,641.51 L429.74,642.59 L430.98,643.66 L432.22,644.74 L433.46,645.81 L434.69,646.87 L435.93,647.93 L437.17,648.99 L438.41,650.05 L439.65,651.11 L440.89,652.17 L442.13,653.22 L443.36,654.27 L444.60,655.32 L445.84,656.36 L447.08,657.40 L448.32,658.44 L449.56,659.47 L450.79,660.49 L452.03,661.51 L453.27,662.53 L454.51,663.54 L455.75,664.56 L456.99,665.57 L458.22,666.58 L459.46,667.59 L460.70,668.59 L461.94,669.59 L463.18,670.60 L464.42,671.60 L465.65,672.59 L466.89,673.59 L468.13,674.58 L469.37,675.58 L470.61,676.57 L471.85,677.56 L473.08,678.54 L474.32,679.53 L475.56,680.51 L476.80,681.50 L478.04,682.48 L479.28,683.46 L480.51,684.44 L481.75,685.41 L482.99,686.39 L484.23,687.37 L485.47,688.34 L486.71,689.31 L487.94,690.28 L489.18,691.25 L490.42,692.22 L491.66,693.19 L492.90,694.16 L494.14,695.12 L495.37,696.09 L496.61,697.05 L497.85,698.02 L499.09,698.98 L500.33,699.94 L501.57,700.91 L502.81,701.87 L504.04,702.83 L505.28,703.79 L506.52,704.74 L507.76,705.70 L509.00,706.66 L510.24,707.61 L511.47,708.57 L512.71,709.52 L513.95,710.47 L515.19,711.43 L516.43,712.38 L517.67,713.33 L518.90,714.28 L520.14,715.22 L521.38,716.17 L522.62,717.12 L523.86,718.06 L525.10,719.01 L526.33,719.95 L527.57,720.89 L528.81,721.84 L530.05,722.78 L531.29,723.72 L532.53,724.65 L533.76,725.59 L535.00,726.53 L536.24,727.46 L537.48,728.40 L538.72,729.33 L539.96,730.26 L541.19,731.19 L542.43,732.13 L543.67,733.05 L544.91,733.98 L546.15,734.91 L547.39,735.84 L548.62,736.76 L549.86,737.68 L551.10,738.61 L552.34,739.53 L553.58,740.45 L554.82,741.37 L556.05,742.29 L557.29,743.20 L558.53,744.12 L559.77,745.03 L561.01,745.95 L562.25,746.86 L563.48,747.77 L564.72,748.68 L565.96,749.59 L567.20,750.50" fill="none" stroke="#161616" stroke-width="1.3" stroke-linejoin="round" stroke-dasharray="3 1.3"/>
</g>
<circle cx="370.30" cy="642.90" r="2.05" fill="none" stroke="#333" stroke-width="1.5"/>
<circle cx="378.40" cy="642.40" r="2.05" fill="none" stroke="#333" stroke-width="1.5"/>
<circle cx="385.90" cy="635.30" r="2.05" fill="none" stroke="#333" stroke-width="1.5"/>
<circle cx="394.20" cy="630.80" r="2.05" fill="none" stroke="#333" stroke-width="1.5"/>
<circle cx="410.10" cy="623.20" r="2.05" fill="none" stroke="#333" stroke-width="1.5"/>
<circle cx="418.20" cy="622.00" r="2.05" fill="none" stroke="#333" stroke-width="1.5"/>
<circle cx="433.80" cy="621.50" r="2.05" fill="none" stroke="#333" stroke-width="1.5"/>
<circle cx="450.20" cy="622.00" r="2.05" fill="none" stroke="#333" stroke-width="1.5"/>
<circle cx="466.20" cy="622.20" r="2.05" fill="none" stroke="#333" stroke-width="1.5"/>
<circle cx="482.00" cy="622.40" r="2.05" fill="none" stroke="#333" stroke-width="1.5"/>
<circle cx="497.90" cy="622.70" r="2.05" fill="none" stroke="#333" stroke-width="1.5"/>
<circle cx="513.70" cy="623.20" r="2.05" fill="none" stroke="#333" stroke-width="1.5"/>
<circle cx="529.40" cy="623.70" r="2.05" fill="none" stroke="#333" stroke-width="1.5"/>
<circle cx="568.90" cy="625.20" r="2.05" fill="none" stroke="#333" stroke-width="1.5"/>
<path d="M368.70,616.40 L370.30,614.80 L371.90,616.40 L370.30,618.00Z" fill="#161616"/>
<path d="M367.90,616.40 L372.70,616.40 M370.30,614.00 L370.30,618.80" stroke="#161616" stroke-width="0.6" fill="none"/>
<path d="M376.80,617.20 L378.40,615.60 L380.00,617.20 L378.40,618.80Z" fill="#161616"/>
<path d="M376.00,617.20 L380.80,617.20 M378.40,614.80 L378.40,619.60" stroke="#161616" stroke-width="0.6" fill="none"/>
<path d="M384.30,618.20 L385.90,616.60 L387.50,618.20 L385.90,619.80Z" fill="#161616"/>
<path d="M383.50,618.20 L388.30,618.20 M385.90,615.80 L385.90,620.60" stroke="#161616" stroke-width="0.6" fill="none"/>
<path d="M392.60,620.20 L394.20,618.60 L395.80,620.20 L394.20,621.80Z" fill="#161616"/>
<path d="M391.80,620.20 L396.60,620.20 M394.20,617.80 L394.20,622.60" stroke="#161616" stroke-width="0.6" fill="none"/>
<path d="M408.50,627.80 L410.10,626.20 L411.70,627.80 L410.10,629.40Z" fill="#161616"/>
<path d="M407.70,627.80 L412.50,627.80 M410.10,625.40 L410.10,630.20" stroke="#161616" stroke-width="0.6" fill="none"/>
<path d="M416.60,632.30 L418.20,630.70 L419.80,632.30 L418.20,633.90Z" fill="#161616"/>
<path d="M415.80,632.30 L420.60,632.30 M418.20,629.90 L418.20,634.70" stroke="#161616" stroke-width="0.6" fill="none"/>
<path d="M432.20,640.40 L433.80,638.80 L435.40,640.40 L433.80,642.00Z" fill="#161616"/>
<path d="M431.40,640.40 L436.20,640.40 M433.80,638.00 L433.80,642.80" stroke="#161616" stroke-width="0.6" fill="none"/>
<path d="M448.60,660.50 L450.20,658.90 L451.80,660.50 L450.20,662.10Z" fill="#161616"/>
<path d="M447.80,660.50 L452.60,660.50 M450.20,658.10 L450.20,662.90" stroke="#161616" stroke-width="0.6" fill="none"/>
<path d="M464.60,676.10 L466.20,674.50 L467.80,676.10 L466.20,677.70Z" fill="#161616"/>
<path d="M463.80,676.10 L468.60,676.10 M466.20,673.70 L466.20,678.50" stroke="#161616" stroke-width="0.6" fill="none"/>
<path d="M480.50,691.20 L482.10,689.60 L483.70,691.20 L482.10,692.80Z" fill="#161616"/>
<path d="M479.70,691.20 L484.50,691.20 M482.10,688.80 L482.10,693.60" stroke="#161616" stroke-width="0.6" fill="none"/>
<path d="M496.30,698.00 L497.90,696.40 L499.50,698.00 L497.90,699.60Z" fill="#161616"/>
<path d="M495.50,698.00 L500.30,698.00 M497.90,695.60 L497.90,700.40" stroke="#161616" stroke-width="0.6" fill="none"/>
<path d="M512.10,720.30 L513.70,718.70 L515.30,720.30 L513.70,721.90Z" fill="#161616"/>
<path d="M511.30,720.30 L516.10,720.30 M513.70,717.90 L513.70,722.70" stroke="#161616" stroke-width="0.6" fill="none"/>
<path d="M527.80,728.30 L529.40,726.70 L531.00,728.30 L529.40,729.90Z" fill="#161616"/>
<path d="M527.00,728.30 L531.80,728.30 M529.40,725.90 L529.40,730.70" stroke="#161616" stroke-width="0.6" fill="none"/>
<path d="M567.30,746.00 L568.90,744.40 L570.50,746.00 L568.90,747.60Z" fill="#161616"/>
<path d="M566.50,746.00 L571.30,746.00 M568.90,743.60 L568.90,748.40" stroke="#161616" stroke-width="0.6" fill="none"/>
<circle cx="379.60" cy="684.40" r="0.9" fill="#161616"/>
<rect x="483.50" y="630.30" width="79.90" height="32.20" fill="#fff" stroke="#161616" stroke-width="0.8"/>
<line x1="487.00" y1="635.30" x2="497.60" y2="635.30" stroke="#161616" stroke-width="1.3"/>
<text x="505.40" y="637.10" font-size="5.0" text-anchor="start" font-family="&quot;Liberation Serif&quot;,&quot;Noto Serif CJK SC&quot;,serif" font-weight="600" fill="#161616" stroke="#161616" stroke-width="0.14" textLength="50.4" lengthAdjust="spacingAndGlyphs">微生物浓度模拟值</text>
<line x1="487.00" y1="642.40" x2="497.60" y2="642.40" stroke="#161616" stroke-width="1.3" stroke-dasharray="2.6 1.3"/>
<text x="505.40" y="644.20" font-size="5.0" text-anchor="start" font-family="&quot;Liberation Serif&quot;,&quot;Noto Serif CJK SC&quot;,serif" font-weight="600" fill="#161616" stroke="#161616" stroke-width="0.14" textLength="50.4" lengthAdjust="spacingAndGlyphs">有机物浓度模拟值</text>
<circle cx="492.30" cy="649.90" r="1.84" fill="none" stroke="#333" stroke-width="1.5"/>
<text x="505.40" y="651.70" font-size="5.0" text-anchor="start" font-family="&quot;Liberation Serif&quot;,&quot;Noto Serif CJK SC&quot;,serif" font-weight="600" fill="#161616" stroke="#161616" stroke-width="0.14" textLength="50.4" lengthAdjust="spacingAndGlyphs">微生物浓度实测值</text>
<path d="M490.60,658.00 L492.30,656.30 L494.00,658.00 L492.30,659.70Z" fill="#161616"/>
<text x="505.40" y="659.80" font-size="5.0" text-anchor="start" font-family="&quot;Liberation Serif&quot;,&quot;Noto Serif CJK SC&quot;,serif" font-weight="600" fill="#161616" stroke="#161616" stroke-width="0.14" textLength="50.4" lengthAdjust="spacingAndGlyphs">有机物浓度实测值</text>
</g>
</svg></body></html>
